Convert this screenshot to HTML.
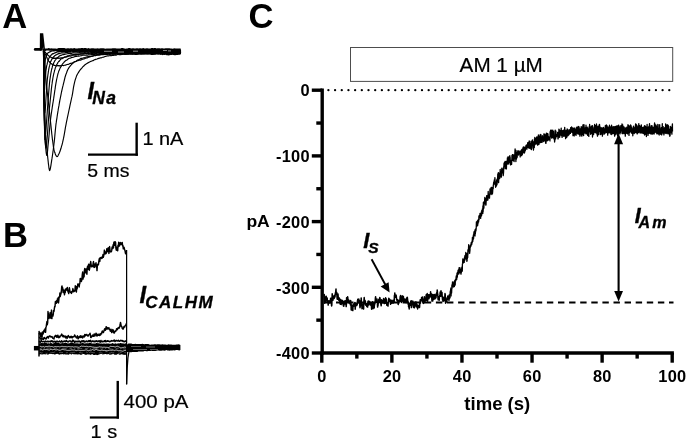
<!DOCTYPE html>
<html lang="en">
<head>
<meta charset="utf-8">
<title>Figure</title>
<style>
html,body{margin:0;padding:0;background:#fff;}
body{width:688px;height:441px;overflow:hidden;}
svg{display:block;}
text{font-family:"Liberation Sans",Arial,Helvetica,sans-serif;fill:#000;}
.r,.r20{stroke:#000;stroke-width:0.2px;}
.b16{font-weight:bold;font-size:16.4px;letter-spacing:0.3px;}
.b18{font-weight:bold;font-size:18px;}
.b32{font-weight:bold;font-size:34.6px;}
.r20{font-size:21px;}
.bi{font-weight:bold;font-style:italic;stroke:#000;stroke-width:0.35px;}
</style>
</head>
<body>
<svg width="688" height="441" viewBox="0 0 688 441">
<rect x="0" y="0" width="688" height="441" fill="#fff"/>
<path d="M328.4 90.2H670" stroke="#000" stroke-width="2.3" stroke-dasharray="0 6.684" stroke-linecap="round" fill="none"/>
<path d="M324.9 302.4H673.5" stroke="#000" stroke-width="2" stroke-dasharray="6.4 4.7" fill="none"/>
<path d="M322.2 88.50V354.70" stroke="#000" stroke-width="3.4" fill="none"/>
<path d="M320.50 353.0H673.9" stroke="#000" stroke-width="3.4" fill="none"/>
<path d="M311.8 90.20H322.2" stroke="#000" stroke-width="3.4" fill="none"/>
<path d="M316.3 123.05H322.2" stroke="#000" stroke-width="3.4" fill="none"/>
<path d="M311.8 155.90H322.2" stroke="#000" stroke-width="3.4" fill="none"/>
<path d="M316.3 188.75H322.2" stroke="#000" stroke-width="3.4" fill="none"/>
<path d="M311.8 221.60H322.2" stroke="#000" stroke-width="3.4" fill="none"/>
<path d="M316.3 254.45H322.2" stroke="#000" stroke-width="3.4" fill="none"/>
<path d="M311.8 287.30H322.2" stroke="#000" stroke-width="3.4" fill="none"/>
<path d="M316.3 320.15H322.2" stroke="#000" stroke-width="3.4" fill="none"/>
<path d="M311.8 353.00H322.2" stroke="#000" stroke-width="3.4" fill="none"/>
<path d="M321.80 353.0V362.7" stroke="#000" stroke-width="3.4" fill="none"/>
<path d="M356.84 353.0V358.6" stroke="#000" stroke-width="3.4" fill="none"/>
<path d="M391.88 353.0V362.7" stroke="#000" stroke-width="3.4" fill="none"/>
<path d="M426.92 353.0V358.6" stroke="#000" stroke-width="3.4" fill="none"/>
<path d="M461.96 353.0V362.7" stroke="#000" stroke-width="3.4" fill="none"/>
<path d="M497.00 353.0V358.6" stroke="#000" stroke-width="3.4" fill="none"/>
<path d="M532.04 353.0V362.7" stroke="#000" stroke-width="3.4" fill="none"/>
<path d="M567.08 353.0V358.6" stroke="#000" stroke-width="3.4" fill="none"/>
<path d="M602.12 353.0V362.7" stroke="#000" stroke-width="3.4" fill="none"/>
<path d="M637.16 353.0V358.6" stroke="#000" stroke-width="3.4" fill="none"/>
<path d="M672.20 353.0V362.7" stroke="#000" stroke-width="3.4" fill="none"/>
<text x="309.9" y="96.40" text-anchor="end" class="b16">0</text>
<text x="309.9" y="162.10" text-anchor="end" class="b16">-100</text>
<text x="309.9" y="227.80" text-anchor="end" class="b16">-200</text>
<text x="309.9" y="293.50" text-anchor="end" class="b16">-300</text>
<text x="309.9" y="359.20" text-anchor="end" class="b16">-400</text>
<text x="322.00" y="382.1" text-anchor="middle" class="b16">0</text>
<text x="392.08" y="382.1" text-anchor="middle" class="b16">20</text>
<text x="462.16" y="382.1" text-anchor="middle" class="b16">40</text>
<text x="532.24" y="382.1" text-anchor="middle" class="b16">60</text>
<text x="602.32" y="382.1" text-anchor="middle" class="b16">80</text>
<text x="672.40" y="382.1" text-anchor="middle" class="b16">100</text>
<text x="246.4" y="227.3" class="b16" style="letter-spacing:0" textLength="23.4" lengthAdjust="spacingAndGlyphs">pA</text>
<text x="464.3" y="409.6" class="b18" textLength="66" lengthAdjust="spacingAndGlyphs">time (s)</text>
<rect x="350.5" y="47.5" width="322.2" height="33.9" fill="#fff" stroke="#4d4d4d" stroke-width="1"/>
<text x="459.6" y="71.6" class="r20" textLength="83.2" lengthAdjust="spacingAndGlyphs">AM 1 µM</text>
<path d="M371.6 259.2L386.6 287" stroke="#000" stroke-width="1.9" fill="none"/>
<path d="M389.6 292.6L380.6 286.5L388.6 282.2Z" fill="#000"/>
<text x="363.2" y="247.6" class="bi" font-size="22">I</text>
<text x="368.2" y="252.7" class="bi" font-size="15.5">S</text>
<path d="M618.6 142V293" stroke="#000" stroke-width="2.1" fill="none"/>
<path d="M618.6 133.5L614.1 144.2H623.1Z" fill="#000"/>
<path d="M618.6 301.6L614.2 291H623Z" fill="#000"/>
<text x="634.8" y="223.1" class="bi" font-size="21.4">I</text>
<text x="638.6" y="227.9" class="bi" font-size="16" letter-spacing="2.2">Am</text>
<text x="2.3" y="27.9" class="b32">A</text>
<text x="2.95" y="246.7" class="b32">B</text>
<text x="248.55" y="28.0" class="b32">C</text>
<text x="87.5" y="98.5" class="bi" font-size="23.2">I</text>
<text x="92.3" y="103.7" class="bi" font-size="17.5" letter-spacing="1.3">Na</text>
<path d="M88 154.65H137.9" stroke="#000" stroke-width="2.3" fill="none"/>
<path d="M136.65 122.7V155.8" stroke="#000" stroke-width="2.4" fill="none"/>
<text x="142.4" y="145.2" class="r" font-size="18.6" textLength="41" lengthAdjust="spacingAndGlyphs">1 nA</text>
<text x="87.2" y="176.6" class="r" font-size="18.6" textLength="42.2" lengthAdjust="spacingAndGlyphs">5 ms</text>
<text x="139.4" y="303.3" class="bi" font-size="23.8">I</text>
<text x="145.2" y="308.2" class="bi" font-size="17" textLength="67.4" lengthAdjust="spacing">CALHM</text>
<path d="M89.8 417.5H119" stroke="#000" stroke-width="2.2" fill="none"/>
<path d="M117.75 380.9V418.6" stroke="#000" stroke-width="2.4" fill="none"/>
<text x="123.6" y="408.2" class="r" font-size="18.8" textLength="64.8" lengthAdjust="spacingAndGlyphs">400 pA</text>
<text x="90.6" y="437.9" class="r" font-size="18.6" textLength="26.6" lengthAdjust="spacingAndGlyphs">1 s</text>
<path d="M43.5 49.9L43.6 50.1L43.7 50.3L43.8 50.5L43.9 50.7L44.0 50.9L44.1 51.1L44.2 51.4L44.3 51.7L44.4 52.0L44.5 52.1L44.6 52.3L44.7 52.6L44.8 52.8L44.9 52.9L45.0 53.2L45.1 53.4L45.2 53.8L45.3 53.9L45.4 54.2L45.5 54.5L45.6 54.8L45.7 55.0L45.8 55.3L45.9 55.4L46.0 55.5L46.1 55.6L46.2 56.0L46.3 56.3L46.4 56.6L46.5 56.8L46.6 57.0L46.7 57.3L46.8 57.3L46.9 57.6L47.0 57.7L47.1 58.2L47.2 58.6L47.3 58.8L47.4 59.0L47.5 59.0L47.6 59.3L47.7 59.3L47.8 59.4L47.9 59.4L48.0 59.6L48.1 60.1L48.2 60.4L48.3 60.5L48.4 60.6L48.5 60.7L48.6 60.9L48.7 60.9L48.8 61.1L48.9 61.2L49.0 61.2L49.1 61.4L49.2 61.5L49.3 61.8L49.4 61.9L49.5 61.9L49.6 61.9L49.7 62.2L49.8 62.4L49.9 62.5L50.0 62.4L50.1 62.5L50.2 62.6L50.3 62.7L50.4 63.0L50.5 63.1L50.6 63.3L50.7 63.4L50.8 63.6L50.9 63.6L51.0 63.6L51.1 63.6L51.2 63.7L51.3 63.6L51.4 63.7L51.5 63.8L51.6 64.0L51.7 64.0L51.8 63.9L51.9 63.9L52.0 64.0L52.1 64.2L52.2 64.4L52.3 64.5L52.4 64.5L52.5 64.5L52.6 64.5L52.7 64.5L52.8 64.5L52.9 64.5L53.0 64.7L53.1 64.9L53.2 64.9L53.3 64.8L53.4 64.7L53.5 64.8L53.6 64.9L53.7 64.9L53.8 65.0L53.9 65.0L54.0 65.2L54.1 65.2L54.2 65.4L54.3 65.3L54.4 65.3L54.5 65.3L54.6 65.4L54.7 65.5L54.8 65.4L54.9 65.4L55.0 65.4L55.1 65.5L55.2 65.5L55.3 65.6L55.4 65.6L55.5 65.6L55.6 65.6L55.7 65.7L55.8 65.7L55.9 65.8L56.0 65.8L56.1 65.8L56.2 65.9L56.3 65.9L56.4 65.8L56.5 65.7L56.6 65.7L56.7 65.7L56.8 65.7L56.9 65.6L57.0 65.6L57.1 65.6L57.2 65.6L57.3 65.6L57.4 65.6L57.5 65.8L57.6 65.7L57.7 65.7L57.8 65.6L57.9 65.6L58.0 65.7L58.1 65.7L58.2 65.7L58.3 65.6L58.4 65.7L58.5 65.6L58.6 65.6L58.7 65.7L58.8 65.9L58.9 66.0L59.0 65.9L59.1 65.8L59.2 65.8L59.3 66.0L59.4 65.8L59.5 65.8L59.6 65.8L59.7 65.8L59.8 65.8L59.9 65.7L60.0 65.8L60.5 65.8L61.0 65.6L61.5 65.6L62.0 65.5L62.5 65.5L63.0 65.5L63.5 65.6L64.0 65.4L64.5 65.3L65.0 65.2L65.5 65.1L66.0 64.9L66.5 64.7L67.0 64.5L67.5 64.5L68.0 64.3L68.5 64.3L69.0 64.1L69.5 63.8L70.0 63.5L70.5 63.3L71.0 63.3L71.5 63.3L72.0 63.1L72.5 62.9L73.0 62.7L73.5 62.4L74.0 62.1L74.5 62.0L75.0 61.7L75.5 61.7L76.0 61.4L76.5 61.3L77.0 61.0L77.5 60.8L78.0 60.6L78.5 60.4L79.0 60.2L79.5 60.2L80.0 60.1L80.5 60.1L81.0 59.9L81.5 59.7L82.0 59.4L82.5 59.2L83.0 59.1L83.5 59.0L84.0 58.9L84.5 58.7L85.0 58.5L85.5 58.3L86.0 58.1L86.5 58.0L87.0 57.8L87.5 57.8L88.0 57.5L88.5 57.3L89.0 57.0L89.5 56.9L90.0 56.8L90.5 56.7L91.0 56.5L91.5 56.4L92.0 56.3L92.5 56.1L93.0 56.0L93.5 55.9L94.0 55.8L94.5 55.7L95.0 55.7L95.5 55.5L96.0 55.3L96.5 55.1L97.0 55.0L97.5 54.8L98.0 54.7L98.5 54.7L99.0 54.7L99.5 54.5L100.0 54.5L100.5 54.3L101.0 54.3L101.5 54.0L102.0 54.0L102.5 53.9L103.0 53.9L103.5 53.9L104.0 53.9L104.5 53.9L105.0 53.7L105.5 53.6L106.0 53.5L106.5 53.5L107.0 53.6L107.5 53.6L108.0 53.3L108.5 53.2L109.0 53.2L109.5 53.3L110.0 53.2L110.5 53.1L111.0 53.0L111.5 53.0L112.0 53.0L112.5 53.1L113.0 53.0L113.5 52.9L114.0 52.9L114.5 52.9L115.0 52.9L115.5 52.8L116.0 52.5L116.5 52.6L117.0 52.6L117.5 52.6L118.0 52.4L118.5 52.4L119.0 52.6L119.5 52.7L120.0 52.8L120.5 52.6L121.0 52.5L121.5 52.5L122.0 52.6L122.5 52.7L123.0 52.7L123.5 52.6L124.0 52.6L124.5 52.5L125.0 52.7L125.5 52.7L126.0 52.8L126.5 52.6L127.0 52.6L127.5 52.5L128.0 52.4L128.5 52.4L129.0 52.5L129.5 52.5L130.0 52.5L130.5 52.5L131.0 52.4L131.5 52.3L132.0 52.2L132.5 52.2L133.0 52.4L133.5 52.4L134.0 52.4L134.5 52.3L135.0 52.5L135.5 52.5L136.0 52.5L136.5 52.3L137.0 52.3L137.5 52.4L138.0 52.3L138.5 52.2L139.0 52.2L139.5 52.3L140.0 52.2L140.5 52.2L141.0 52.3L141.5 52.4L142.0 52.3L142.5 52.2L143.0 52.2L143.5 52.1L144.0 52.1L144.5 52.1L145.0 52.2L145.5 52.0L146.0 52.1L146.5 52.1L147.0 52.3L147.5 52.2L148.0 52.1L148.5 52.0L149.0 52.0L149.5 52.0L150.0 52.1L150.5 52.2L151.0 52.3L151.5 52.3L152.0 52.4L152.5 52.4L153.0 52.4L153.5 52.1L154.0 51.9L154.5 52.0L155.0 52.0L155.5 52.0L156.0 51.9L156.5 52.0L157.0 52.1L157.5 52.1L158.0 52.2L158.5 52.1L159.0 52.0L159.5 52.0L160.0 52.0L160.5 52.1L161.0 52.1L161.5 51.9L162.0 51.9L162.5 51.8L163.0 52.0L163.5 52.1L164.0 52.2L164.5 52.1L165.0 51.9L165.5 51.9L166.0 52.0L166.5 52.2L167.0 52.1L167.5 52.1L168.0 52.1L168.5 51.9L169.0 51.7L169.5 51.6L170.0 51.7L170.5 51.9L171.0 52.0L171.5 52.0L172.0 52.0L172.5 52.1L173.0 52.0L173.5 52.0L174.0 51.8L174.5 51.9L175.0 52.0L175.5 52.1L176.0 52.1L176.5 52.2L177.0 52.2L177.5 52.1L178.0 52.0L178.5 52.0L179.0 51.9L179.5 51.9L180.0 52.0L180.5 51.9L181.0 52.1" fill="none" stroke="#000" stroke-width="1.15" stroke-linejoin="round"/>
<path d="M43.5 49.8L43.6 49.9L43.7 49.9L43.8 50.2L43.9 50.4L44.0 50.5L44.1 50.6L44.2 50.6L44.3 50.7L44.4 50.8L44.5 51.1L44.6 51.2L44.7 51.4L44.8 51.5L44.9 51.6L45.0 51.8L45.1 51.9L45.2 52.1L45.3 52.1L45.4 52.4L45.5 52.5L45.6 52.7L45.7 52.8L45.8 52.9L45.9 53.0L46.0 53.1L46.1 53.3L46.2 53.3L46.3 53.4L46.4 53.5L46.5 53.8L46.6 53.9L46.7 54.0L46.8 53.9L46.9 54.2L47.0 54.3L47.1 54.5L47.2 54.3L47.3 54.4L47.4 54.3L47.5 54.6L47.6 54.7L47.7 54.8L47.8 55.0L47.9 55.3L48.0 55.2L48.1 55.2L48.2 55.2L48.3 55.5L48.4 55.6L48.5 55.5L48.6 55.5L48.7 55.7L48.8 55.9L48.9 56.1L49.0 56.0L49.1 56.0L49.2 56.1L49.3 56.2L49.4 56.3L49.5 56.3L49.6 56.4L49.7 56.3L49.8 56.5L49.9 56.6L50.0 56.7L50.1 56.7L50.2 56.7L50.3 56.9L50.4 57.0L50.5 57.1L50.6 57.1L50.7 57.1L50.8 57.1L50.9 57.1L51.0 57.2L51.1 57.3L51.2 57.4L51.3 57.4L51.4 57.5L51.5 57.6L51.6 57.7L51.7 57.6L51.8 57.6L51.9 57.8L52.0 57.9L52.1 57.8L52.2 57.8L52.3 58.0L52.4 58.0L52.5 58.0L52.6 57.9L52.7 58.0L52.8 58.1L52.9 58.0L53.0 58.1L53.1 58.2L53.2 58.3L53.3 58.3L53.4 58.1L53.5 58.0L53.6 57.9L53.7 58.2L53.8 58.3L53.9 58.3L54.0 58.1L54.1 58.1L54.2 58.1L54.3 58.1L54.4 58.3L54.5 58.3L54.6 58.3L54.7 58.2L54.8 58.4L54.9 58.5L55.0 58.4L55.1 58.4L55.2 58.3L55.3 58.3L55.4 58.3L55.5 58.3L55.6 58.1L55.7 58.1L55.8 58.1L55.9 58.3L56.0 58.3L56.1 58.3L56.2 58.2L56.3 58.1L56.4 58.2L56.5 58.3L56.6 58.2L56.7 58.1L56.8 58.0L56.9 58.1L57.0 58.2L57.1 58.2L57.2 58.2L57.3 58.3L57.4 58.2L57.5 58.2L57.6 58.1L57.7 58.0L57.8 58.1L57.9 58.2L58.0 58.1L58.1 58.0L58.2 57.9L58.3 58.1L58.4 58.2L58.5 58.1L58.6 57.9L58.7 58.2L58.8 58.2L58.9 58.4L59.0 58.2L59.1 58.2L59.2 58.2L59.3 58.1L59.4 58.1L59.5 58.1L59.6 58.2L59.7 58.1L59.8 58.0L59.9 58.0L60.0 58.1L60.5 58.1L61.0 57.9L61.5 57.8L62.0 57.7L62.5 57.8L63.0 57.7L63.5 57.7L64.0 57.5L64.5 57.3L65.0 57.2L65.5 57.2L66.0 57.1L66.5 56.9L67.0 56.8L67.5 56.6L68.0 56.5L68.5 56.3L69.0 56.1L69.5 56.0L70.0 56.0L70.5 56.1L71.0 56.0L71.5 55.8L72.0 55.5L72.5 55.3L73.0 55.1L73.5 55.1L74.0 55.1L74.5 55.2L75.0 55.2L75.5 55.1L76.0 55.1L76.5 54.9L77.0 54.9L77.5 54.7L78.0 54.7L78.5 54.4L79.0 54.4L79.5 54.2L80.0 54.2L80.5 54.1L81.0 54.1L81.5 54.0L82.0 54.0L82.5 54.0L83.0 53.8L83.5 53.7L84.0 53.7L84.5 53.7L85.0 53.6L85.5 53.4L86.0 53.5L86.5 53.5L87.0 53.5L87.5 53.5L88.0 53.4L88.5 53.4L89.0 53.2L89.5 53.2L90.0 53.0L90.5 53.0L91.0 53.1L91.5 53.2L92.0 53.2L92.5 53.0L93.0 52.9L93.5 52.8L94.0 52.8L94.5 52.9L95.0 52.9L95.5 52.9L96.0 52.8L96.5 52.8L97.0 52.8L97.5 52.7L98.0 52.7L98.5 52.7L99.0 52.7L99.5 52.7L100.0 52.6L100.5 52.7L101.0 52.4L101.5 52.4L102.0 52.1L102.5 52.4L103.0 52.5L103.5 52.5L104.0 52.3L104.5 52.3L105.0 52.3L105.5 52.3L106.0 52.2L106.5 52.1L107.0 52.1L107.5 52.2L108.0 52.3L108.5 52.2L109.0 52.1L109.5 52.1L110.0 52.0L110.5 52.1L111.0 52.1L111.5 52.2L112.0 52.1L112.5 52.1L113.0 52.2L113.5 52.2L114.0 51.9L114.5 51.9L115.0 52.0L115.5 52.2L116.0 52.2L116.5 52.1L117.0 52.0L117.5 52.1L118.0 52.0L118.5 52.0L119.0 51.9L119.5 52.0L120.0 51.9L120.5 52.0L121.0 51.9L121.5 52.0L122.0 52.0L122.5 52.1L123.0 52.0L123.5 52.0L124.0 52.0L124.5 52.1L125.0 52.1L125.5 52.1L126.0 52.2L126.5 52.0L127.0 51.9L127.5 51.9L128.0 52.1L128.5 52.2L129.0 52.2L129.5 52.0L130.0 51.8L130.5 51.8L131.0 51.9L131.5 51.9L132.0 51.8L132.5 51.6L133.0 51.7L133.5 51.8L134.0 51.8L134.5 51.8L135.0 51.8L135.5 51.9L136.0 51.8L136.5 51.7L137.0 51.5L137.5 51.7L138.0 51.7L138.5 51.9L139.0 51.9L139.5 51.9L140.0 51.8L140.5 51.8L141.0 51.8L141.5 51.9L142.0 51.7L142.5 51.7L143.0 51.7L143.5 51.6L144.0 51.5L144.5 51.6L145.0 51.9L145.5 51.9L146.0 51.8L146.5 51.8L147.0 51.8L147.5 51.9L148.0 51.7L148.5 51.6L149.0 51.7L149.5 51.7L150.0 51.8L150.5 51.6L151.0 51.7L151.5 51.7L152.0 51.8L152.5 51.7L153.0 51.8L153.5 51.7L154.0 51.7L154.5 51.8L155.0 51.8L155.5 51.7L156.0 51.5L156.5 51.5L157.0 51.6L157.5 51.7L158.0 51.6L158.5 51.6L159.0 51.6L159.5 51.6L160.0 51.7L160.5 51.7L161.0 51.7L161.5 51.7L162.0 51.7L162.5 51.7L163.0 51.6L163.5 51.6L164.0 51.4L164.5 51.5L165.0 51.5L165.5 51.5L166.0 51.5L166.5 51.6L167.0 51.7L167.5 51.7L168.0 51.7L168.5 51.6L169.0 51.5L169.5 51.6L170.0 51.6L170.5 51.6L171.0 51.6L171.5 51.6L172.0 51.6L172.5 51.5L173.0 51.5L173.5 51.5L174.0 51.7L174.5 51.6L175.0 51.5L175.5 51.5L176.0 51.5L176.5 51.6L177.0 51.6L177.5 51.6L178.0 51.6L178.5 51.6L179.0 51.6L179.5 51.6L180.0 51.7L180.5 51.8L181.0 51.7" fill="none" stroke="#000" stroke-width="1.15" stroke-linejoin="round"/>
<path d="M43.5 49.7L43.6 50.1L43.7 50.5L43.8 51.3L43.9 52.0L44.0 52.7L44.1 53.3L44.2 54.1L44.3 55.0L44.4 56.0L44.5 57.0L44.6 57.9L44.7 59.0L44.8 60.4L44.9 61.8L45.0 63.4L45.1 65.2L45.2 67.0L45.3 68.8L45.4 70.5L45.5 72.3L45.6 74.0L45.7 75.8L45.8 77.5L45.9 78.8L46.0 80.1L46.1 81.2L46.2 82.4L46.3 83.4L46.4 84.4L46.5 85.4L46.6 86.3L46.7 87.1L46.8 87.9L46.9 88.8L47.0 89.6L47.1 90.7L47.2 91.7L47.3 92.6L47.4 93.4L47.5 94.1L47.6 95.0L47.7 96.0L47.8 96.8L47.9 97.7L48.0 98.4L48.1 99.4L48.2 100.4L48.3 101.5L48.4 102.3L48.5 103.2L48.6 104.1L48.7 105.0L48.8 105.9L48.9 107.0L49.0 108.0L49.1 108.9L49.2 109.7L49.3 110.6L49.4 111.6L49.5 112.6L49.6 113.5L49.7 114.5L49.8 115.3L49.9 116.1L50.0 116.8L50.1 117.8L50.2 118.7L50.3 119.7L50.4 120.6L50.5 121.5L50.6 122.5L50.7 123.4L50.8 124.4L50.9 125.3L51.0 126.2L51.1 127.2L51.2 128.2L51.3 129.2L51.4 130.0L51.5 130.9L51.6 132.0L51.7 133.0L51.8 134.0L51.9 134.8L52.0 135.5L52.1 136.4L52.2 137.4L52.3 138.3L52.4 139.1L52.5 139.8L52.6 140.5L52.7 141.2L52.8 141.8L52.9 142.6L53.0 143.4L53.1 144.2L53.2 145.0L53.3 145.8L53.4 146.6L53.5 147.2L53.6 147.6L53.7 148.1L53.8 148.6L53.9 149.2L54.0 149.7L54.1 150.2L54.2 150.6L54.3 150.9L54.4 151.2L54.5 151.4L54.6 151.9L54.7 152.3L54.8 152.5L54.9 152.7L55.0 152.9L55.1 153.2L55.2 153.6L55.3 154.0L55.4 154.3L55.5 154.6L55.6 154.8L55.7 155.0L55.8 155.2L55.9 155.3L56.0 155.3L56.1 155.5L56.2 155.8L56.3 156.0L56.4 156.1L56.5 156.1L56.6 156.3L56.7 156.3L56.8 156.4L56.9 156.5L57.0 156.6L57.1 156.4L57.2 156.4L57.3 156.3L57.4 156.4L57.5 156.3L57.6 156.3L57.7 156.2L57.8 156.0L57.9 155.7L58.0 155.6L58.1 155.4L58.2 155.3L58.3 155.0L58.4 154.8L58.5 154.6L58.6 154.4L58.7 154.2L58.8 154.0L58.9 153.8L59.0 153.6L59.1 153.5L59.2 153.3L59.3 153.0L59.4 152.6L59.5 152.3L59.6 152.1L59.7 152.0L59.8 151.9L59.9 151.7L60.0 151.3L60.5 149.8L61.0 148.3L61.5 146.4L62.0 144.8L62.5 142.9L63.0 140.7L63.5 138.4L64.0 135.8L64.5 133.1L65.0 130.2L65.5 127.2L66.0 124.6L66.5 121.9L67.0 119.6L67.5 117.1L68.0 114.9L68.5 112.5L69.0 110.2L69.5 107.8L70.0 105.4L70.5 103.1L71.0 100.8L71.5 98.5L72.0 96.4L72.5 93.8L73.0 90.6L73.5 87.4L74.0 84.8L74.5 82.6L75.0 80.7L75.5 79.0L76.0 77.6L76.5 76.1L77.0 75.0L77.5 74.0L78.0 73.2L78.5 72.4L79.0 71.6L79.5 70.8L80.0 70.1L80.5 69.5L81.0 69.0L81.5 68.4L82.0 67.8L82.5 67.1L83.0 66.6L83.5 66.2L84.0 65.8L84.5 65.2L85.0 64.8L85.5 64.4L86.0 64.1L86.5 63.7L87.0 63.4L87.5 63.1L88.0 62.9L88.5 62.6L89.0 62.3L89.5 62.1L90.0 61.8L90.5 61.5L91.0 61.3L91.5 61.2L92.0 60.9L92.5 60.8L93.0 60.6L93.5 60.4L94.0 60.1L94.5 59.8L95.0 59.6L95.5 59.4L96.0 59.2L96.5 59.2L97.0 59.1L97.5 58.8L98.0 58.6L98.5 58.4L99.0 58.4L99.5 58.1L100.0 58.0L100.5 57.8L101.0 57.9L101.5 57.7L102.0 57.5L102.5 57.3L103.0 57.2L103.5 57.2L104.0 56.9L104.5 56.7L105.0 56.5L105.5 56.5L106.0 56.2L106.5 56.1L107.0 56.0L107.5 55.9L108.0 55.9L108.5 55.9L109.0 55.8L109.5 55.7L110.0 55.6L110.5 55.6L111.0 55.7L111.5 55.6L112.0 55.5L112.5 55.4L113.0 55.4L113.5 55.4L114.0 55.3L114.5 55.1L115.0 55.1L115.5 55.1L116.0 55.2L116.5 54.9L117.0 54.7L117.5 54.3L118.0 54.5L118.5 54.5L119.0 54.7L119.5 54.5L120.0 54.6L120.5 54.5L121.0 54.6L121.5 54.5L122.0 54.5L122.5 54.4L123.0 54.3L123.5 54.2L124.0 54.2L124.5 54.2L125.0 54.2L125.5 54.1L126.0 54.1L126.5 54.0L127.0 53.9L127.5 53.8L128.0 53.8L128.5 53.8L129.0 53.7L129.5 53.7L130.0 53.7L130.5 53.8L131.0 53.8L131.5 53.9L132.0 53.8L132.5 53.8L133.0 53.6L133.5 53.6L134.0 53.7L134.5 53.8L135.0 53.7L135.5 53.6L136.0 53.6L136.5 53.6L137.0 53.7L137.5 53.5L138.0 53.6L138.5 53.6L139.0 53.7L139.5 53.5L140.0 53.5L140.5 53.4L141.0 53.5L141.5 53.5L142.0 53.4L142.5 53.4L143.0 53.5L143.5 53.4L144.0 53.3L144.5 53.0L145.0 53.1L145.5 53.1L146.0 53.2L146.5 53.3L147.0 53.4L147.5 53.3L148.0 53.3L148.5 53.3L149.0 53.3L149.5 53.3L150.0 53.3L150.5 53.2L151.0 53.3L151.5 53.0L152.0 53.1L152.5 52.9L153.0 53.2L153.5 53.1L154.0 53.3L154.5 53.1L155.0 53.4L155.5 53.3L156.0 53.4L156.5 53.2L157.0 53.4L157.5 53.4L158.0 53.2L158.5 53.1L159.0 53.1L159.5 53.1L160.0 53.1L160.5 53.0L161.0 53.1L161.5 53.1L162.0 53.1L162.5 53.1L163.0 53.0L163.5 53.1L164.0 53.0L164.5 53.0L165.0 53.2L165.5 53.2L166.0 53.1L166.5 53.0L167.0 52.9L167.5 53.0L168.0 53.0L168.5 53.1L169.0 53.1L169.5 53.0L170.0 53.0L170.5 53.1L171.0 53.1L171.5 53.1L172.0 53.0L172.5 53.1L173.0 53.2L173.5 53.1L174.0 53.0L174.5 52.9L175.0 52.8L175.5 52.8L176.0 53.0L176.5 53.1L177.0 53.1L177.5 53.0L178.0 52.9L178.5 52.9L179.0 53.0L179.5 53.0L180.0 53.1L180.5 53.1L181.0 53.2" fill="none" stroke="#000" stroke-width="1.15" stroke-linejoin="round"/>
<path d="M43.5 49.8L43.6 53.0L43.7 56.7L43.8 60.7L43.9 65.2L44.0 70.1L44.1 76.1L44.2 83.2L44.3 90.8L44.4 98.3L44.5 104.9L44.6 110.0L44.7 113.9L44.8 117.4L44.9 120.4L45.0 123.4L45.1 126.0L45.2 128.3L45.3 130.0L45.4 131.7L45.5 133.3L45.6 134.7L45.7 136.0L45.8 137.2L45.9 138.5L46.0 139.5L46.1 140.6L46.2 141.8L46.3 142.8L46.4 143.8L46.5 144.6L46.6 145.6L46.7 146.7L46.8 147.7L46.9 148.7L47.0 149.8L47.1 150.9L47.2 152.0L47.3 153.1L47.4 154.1L47.5 155.2L47.6 156.1L47.7 157.3L47.8 158.1L47.9 159.0L48.0 159.9L48.1 160.9L48.2 161.8L48.3 162.7L48.4 163.6L48.5 164.3L48.6 165.0L48.7 165.8L48.8 166.7L48.9 167.6L49.0 168.2L49.1 168.8L49.2 169.2L49.3 169.6L49.4 170.0L49.5 170.3L49.6 170.6L49.7 170.6L49.8 170.4L49.9 170.0L50.0 169.8L50.1 169.5L50.2 169.2L50.3 168.7L50.4 168.3L50.5 167.8L50.6 167.2L50.7 166.6L50.8 166.1L50.9 165.6L51.0 164.9L51.1 164.2L51.2 163.5L51.3 162.9L51.4 162.3L51.5 161.6L51.6 160.9L51.7 160.1L51.8 159.6L51.9 158.9L52.0 158.4L52.1 157.6L52.2 157.1L52.3 156.5L52.4 155.8L52.5 155.1L52.6 154.2L52.7 153.8L52.8 153.0L52.9 152.3L53.0 151.4L53.1 150.8L53.2 150.3L53.3 149.6L53.4 148.7L53.5 147.8L53.6 147.0L53.7 146.2L53.8 145.4L53.9 144.4L54.0 143.5L54.1 142.8L54.2 142.0L54.3 141.3L54.4 140.3L54.5 139.4L54.6 138.4L54.7 137.3L54.8 136.2L54.9 134.9L55.0 133.9L55.1 132.8L55.2 131.7L55.3 130.6L55.4 129.6L55.5 128.7L55.6 127.8L55.7 126.8L55.8 125.8L55.9 124.9L56.0 124.0L56.1 123.3L56.2 122.7L56.3 122.0L56.4 121.3L56.5 120.5L56.6 119.9L56.7 119.3L56.8 118.8L56.9 118.1L57.0 117.5L57.1 116.7L57.2 116.0L57.3 115.4L57.4 114.8L57.5 114.2L57.6 113.5L57.7 112.9L57.8 112.3L57.9 111.6L58.0 111.0L58.1 110.4L58.2 109.7L58.3 109.1L58.4 108.5L58.5 108.0L58.6 107.3L58.7 106.8L58.8 106.3L58.9 105.9L59.0 105.3L59.1 104.6L59.2 104.0L59.3 103.4L59.4 103.0L59.5 102.4L59.6 102.0L59.7 101.2L59.8 100.6L59.9 100.0L60.0 99.6L60.5 97.1L61.0 94.6L61.5 92.0L62.0 89.8L62.5 87.6L63.0 85.7L63.5 83.6L64.0 81.6L64.5 79.5L65.0 77.3L65.5 75.8L66.0 74.2L66.5 73.0L67.0 71.5L67.5 70.3L68.0 69.2L68.5 68.4L69.0 67.6L69.5 66.9L70.0 66.3L70.5 65.7L71.0 65.1L71.5 64.5L72.0 64.1L72.5 63.5L73.0 63.2L73.5 62.5L74.0 62.1L74.5 61.7L75.0 61.5L75.5 61.5L76.0 61.3L76.5 61.0L77.0 60.4L77.5 60.0L78.0 60.0L78.5 59.9L79.0 59.7L79.5 59.3L80.0 59.0L80.5 58.6L81.0 58.4L81.5 58.3L82.0 58.3L82.5 58.2L83.0 58.0L83.5 57.9L84.0 57.8L84.5 57.7L85.0 57.4L85.5 57.3L86.0 57.2L86.5 57.0L87.0 56.8L87.5 56.7L88.0 56.6L88.5 56.6L89.0 56.6L89.5 56.6L90.0 56.6L90.5 56.5L91.0 56.5L91.5 56.3L92.0 56.1L92.5 56.1L93.0 55.9L93.5 55.8L94.0 55.5L94.5 55.5L95.0 55.5L95.5 55.6L96.0 55.5L96.5 55.3L97.0 55.2L97.5 55.2L98.0 55.2L98.5 55.1L99.0 55.1L99.5 55.1L100.0 55.0L100.5 54.9L101.0 54.7L101.5 54.6L102.0 54.5L102.5 54.6L103.0 54.5L103.5 54.6L104.0 54.5L104.5 54.5L105.0 54.6L105.5 54.5L106.0 54.4L106.5 54.3L107.0 54.4L107.5 54.4L108.0 54.3L108.5 54.2L109.0 54.3L109.5 54.4L110.0 54.4L110.5 54.3L111.0 54.1L111.5 54.0L112.0 54.0L112.5 54.1L113.0 54.1L113.5 54.1L114.0 53.9L114.5 54.1L115.0 54.1L115.5 54.2L116.0 54.0L116.5 54.0L117.0 53.9L117.5 53.8L118.0 53.8L118.5 53.9L119.0 53.9L119.5 53.9L120.0 53.8L120.5 53.9L121.0 53.8L121.5 53.7L122.0 53.8L122.5 53.9L123.0 53.9L123.5 53.9L124.0 53.9L124.5 54.0L125.0 54.0L125.5 53.8L126.0 53.8L126.5 53.8L127.0 53.9L127.5 53.8L128.0 53.8L128.5 53.8L129.0 53.9L129.5 53.8L130.0 53.7L130.5 53.6L131.0 53.6L131.5 53.6L132.0 53.7L132.5 53.9L133.0 53.9L133.5 53.8L134.0 53.7L134.5 53.7L135.0 53.8L135.5 53.8L136.0 53.8L136.5 53.6L137.0 53.6L137.5 53.7L138.0 53.6L138.5 53.6L139.0 53.4L139.5 53.5L140.0 53.5L140.5 53.5L141.0 53.7L141.5 53.6L142.0 53.7L142.5 53.7L143.0 53.7L143.5 53.7L144.0 53.7L144.5 53.8L145.0 53.8L145.5 53.6L146.0 53.6L146.5 53.5L147.0 53.7L147.5 53.6L148.0 53.6L148.5 53.6L149.0 53.6L149.5 53.6L150.0 53.6L150.5 53.5L151.0 53.4L151.5 53.3L152.0 53.4L152.5 53.7L153.0 53.8L153.5 53.8L154.0 53.5L154.5 53.6L155.0 53.6L155.5 53.5L156.0 53.5L156.5 53.5L157.0 53.6L157.5 53.4L158.0 53.3L158.5 53.3L159.0 53.3L159.5 53.4L160.0 53.4L160.5 53.5L161.0 53.5L161.5 53.5L162.0 53.5L162.5 53.5L163.0 53.4L163.5 53.6L164.0 53.7L164.5 53.8L165.0 53.6L165.5 53.5L166.0 53.4L166.5 53.4L167.0 53.5L167.5 53.4L168.0 53.3L168.5 53.2L169.0 53.3L169.5 53.6L170.0 53.7L170.5 53.6L171.0 53.4L171.5 53.3L172.0 53.3L172.5 53.3L173.0 53.2L173.5 53.3L174.0 53.3L174.5 53.4L175.0 53.4L175.5 53.6L176.0 53.6L176.5 53.5L177.0 53.4L177.5 53.3L178.0 53.4L178.5 53.3L179.0 53.3L179.5 53.3L180.0 53.5L180.5 53.5L181.0 53.5" fill="none" stroke="#000" stroke-width="1.15" stroke-linejoin="round"/>
<path d="M43.5 49.8L43.6 55.4L43.7 61.4L43.8 67.9L43.9 74.9L44.0 82.8L44.1 92.0L44.2 101.0L44.3 109.1L44.4 114.9L44.5 119.4L44.6 123.4L44.7 127.0L44.8 130.2L44.9 133.4L45.0 136.1L45.1 138.3L45.2 140.0L45.3 141.4L45.4 142.8L45.5 144.2L45.6 145.8L45.7 147.1L45.8 148.5L45.9 149.6L46.0 150.7L46.1 151.8L46.2 152.6L46.3 153.3L46.4 153.9L46.5 154.4L46.6 154.9L46.7 155.3L46.8 155.4L46.9 155.2L47.0 154.8L47.1 154.4L47.2 153.7L47.3 153.0L47.4 152.3L47.5 151.5L47.6 150.6L47.7 149.4L47.8 148.2L47.9 147.0L48.0 146.0L48.1 145.0L48.2 144.0L48.3 143.0L48.4 142.2L48.5 141.2L48.6 140.2L48.7 139.1L48.8 137.9L48.9 137.0L49.0 135.8L49.1 134.7L49.2 133.6L49.3 132.3L49.4 131.0L49.5 129.9L49.6 128.9L49.7 128.0L49.8 126.9L49.9 125.8L50.0 124.7L50.1 123.6L50.2 122.7L50.3 121.7L50.4 120.8L50.5 119.9L50.6 119.0L50.7 118.0L50.8 117.5L50.9 116.7L51.0 116.0L51.1 115.1L51.2 114.3L51.3 113.7L51.4 113.1L51.5 112.4L51.6 111.8L51.7 111.0L51.8 110.3L51.9 109.7L52.0 109.1L52.1 108.5L52.2 107.6L52.3 107.0L52.4 106.4L52.5 106.0L52.6 105.1L52.7 104.5L52.8 103.7L52.9 103.3L53.0 102.6L53.1 102.0L53.2 101.5L53.3 100.9L53.4 100.2L53.5 99.5L53.6 98.9L53.7 98.2L53.8 97.6L53.9 96.8L54.0 96.2L54.1 95.5L54.2 95.0L54.3 94.1L54.4 93.5L54.5 92.7L54.6 92.1L54.7 91.4L54.8 90.6L54.9 89.9L55.0 89.4L55.1 88.8L55.2 88.1L55.3 87.2L55.4 86.5L55.5 85.9L55.6 85.3L55.7 84.7L55.8 84.1L55.9 83.6L56.0 82.9L56.1 82.3L56.2 81.8L56.3 81.3L56.4 80.8L56.5 80.2L56.6 79.6L56.7 79.1L56.8 78.5L56.9 78.2L57.0 77.7L57.1 77.4L57.2 76.8L57.3 76.4L57.4 75.9L57.5 75.7L57.6 75.2L57.7 74.8L57.8 74.3L57.9 73.9L58.0 73.6L58.1 73.2L58.2 72.9L58.3 72.7L58.4 72.4L58.5 72.2L58.6 71.8L58.7 71.4L58.8 71.0L58.9 70.8L59.0 70.7L59.1 70.7L59.2 70.3L59.3 70.0L59.4 69.6L59.5 69.4L59.6 69.2L59.7 69.0L59.8 68.8L59.9 68.5L60.0 68.3L60.5 67.4L61.0 66.7L61.5 65.8L62.0 64.9L62.5 64.0L63.0 63.3L63.5 62.8L64.0 62.2L64.5 61.8L65.0 61.2L65.5 60.8L66.0 60.4L66.5 60.2L67.0 59.9L67.5 59.6L68.0 59.0L68.5 58.7L69.0 58.4L69.5 58.3L70.0 58.2L70.5 58.1L71.0 57.8L71.5 57.6L72.0 57.4L72.5 57.4L73.0 57.3L73.5 57.2L74.0 56.9L74.5 56.8L75.0 56.6L75.5 56.5L76.0 56.4L76.5 56.3L77.0 56.3L77.5 56.2L78.0 56.1L78.5 55.9L79.0 56.1L79.5 56.0L80.0 55.9L80.5 55.7L81.0 55.7L81.5 55.7L82.0 55.4L82.5 55.2L83.0 55.1L83.5 55.1L84.0 55.1L84.5 55.2L85.0 55.3L85.5 55.2L86.0 55.1L86.5 55.1L87.0 55.2L87.5 55.1L88.0 54.9L88.5 54.8L89.0 54.9L89.5 54.9L90.0 54.9L90.5 54.9L91.0 54.8L91.5 54.6L92.0 54.4L92.5 54.3L93.0 54.4L93.5 54.3L94.0 54.5L94.5 54.6L95.0 54.6L95.5 54.3L96.0 54.1L96.5 54.2L97.0 54.4L97.5 54.4L98.0 54.4L98.5 54.1L99.0 54.1L99.5 54.2L100.0 54.3L100.5 54.2L101.0 54.2L101.5 54.2L102.0 54.1L102.5 54.1L103.0 54.0L103.5 54.2L104.0 54.1L104.5 54.2L105.0 54.0L105.5 54.1L106.0 54.1L106.5 54.1L107.0 54.0L107.5 53.9L108.0 53.9L108.5 53.9L109.0 53.9L109.5 53.9L110.0 53.8L110.5 53.9L111.0 53.9L111.5 54.0L112.0 54.2L112.5 54.2L113.0 54.2L113.5 54.1L114.0 54.0L114.5 54.0L115.0 54.0L115.5 54.1L116.0 53.9L116.5 53.8L117.0 53.7L117.5 53.9L118.0 54.0L118.5 53.9L119.0 54.0L119.5 53.9L120.0 53.9L120.5 53.9L121.0 53.9L121.5 53.9L122.0 53.7L122.5 53.7L123.0 53.8L123.5 53.9L124.0 53.9L124.5 53.7L125.0 53.9L125.5 53.9L126.0 53.9L126.5 53.8L127.0 53.8L127.5 53.8L128.0 53.8L128.5 53.9L129.0 53.9L129.5 54.0L130.0 53.9L130.5 53.9L131.0 53.8L131.5 53.8L132.0 53.8L132.5 53.8L133.0 53.8L133.5 53.8L134.0 53.7L134.5 53.7L135.0 53.7L135.5 53.8L136.0 53.8L136.5 53.9L137.0 54.0L137.5 53.9L138.0 53.8L138.5 53.6L139.0 53.7L139.5 53.8L140.0 53.9L140.5 53.8L141.0 53.8L141.5 53.8L142.0 54.0L142.5 54.0L143.0 53.9L143.5 53.6L144.0 53.5L144.5 53.5L145.0 53.5L145.5 53.5L146.0 53.4L146.5 53.5L147.0 53.6L147.5 53.7L148.0 53.7L148.5 53.8L149.0 53.8L149.5 53.7L150.0 53.6L150.5 53.5L151.0 53.5L151.5 53.5L152.0 53.6L152.5 53.8L153.0 53.9L153.5 53.9L154.0 53.8L154.5 53.6L155.0 53.6L155.5 53.7L156.0 53.6L156.5 53.7L157.0 53.6L157.5 53.7L158.0 53.8L158.5 53.9L159.0 53.8L159.5 53.6L160.0 53.4L160.5 53.4L161.0 53.4L161.5 53.4L162.0 53.4L162.5 53.4L163.0 53.6L163.5 53.7L164.0 53.8L164.5 53.8L165.0 53.5L165.5 53.5L166.0 53.5L166.5 53.5L167.0 53.4L167.5 53.5L168.0 53.5L168.5 53.5L169.0 53.4L169.5 53.5L170.0 53.6L170.5 53.6L171.0 53.6L171.5 53.6L172.0 53.6L172.5 53.6L173.0 53.6L173.5 53.6L174.0 53.7L174.5 53.5L175.0 53.5L175.5 53.4L176.0 53.4L176.5 53.6L177.0 53.5L177.5 53.6L178.0 53.4L178.5 53.6L179.0 53.6L179.5 53.6L180.0 53.7L180.5 53.7L181.0 53.8" fill="none" stroke="#000" stroke-width="1.15" stroke-linejoin="round"/>
<path d="M43.5 49.8L43.6 60.4L43.7 70.5L43.8 79.7L43.9 88.9L44.0 98.2L44.1 107.0L44.2 114.5L44.3 120.2L44.4 124.4L44.5 128.1L44.6 131.3L44.7 134.2L44.8 136.6L44.9 138.5L45.0 140.0L45.1 141.2L45.2 142.6L45.3 143.8L45.4 145.0L45.5 145.7L45.6 146.5L45.7 147.0L45.8 147.7L45.9 147.9L46.0 147.8L46.1 147.5L46.2 147.2L46.3 147.0L46.4 146.4L46.5 145.4L46.6 144.3L46.7 143.2L46.8 142.1L46.9 140.8L47.0 139.5L47.1 138.2L47.2 137.1L47.3 136.0L47.4 135.0L47.5 133.6L47.6 132.3L47.7 130.9L47.8 129.5L47.9 128.0L48.0 126.5L48.1 125.0L48.2 123.4L48.3 121.9L48.4 120.5L48.5 119.1L48.6 117.7L48.7 116.3L48.8 115.2L48.9 114.0L49.0 112.9L49.1 111.6L49.2 110.4L49.3 109.2L49.4 108.2L49.5 107.4L49.6 106.5L49.7 105.5L49.8 104.6L49.9 103.7L50.0 102.7L50.1 101.7L50.2 100.7L50.3 99.7L50.4 98.8L50.5 97.8L50.6 96.9L50.7 95.9L50.8 94.9L50.9 94.0L51.0 92.9L51.1 92.1L51.2 91.0L51.3 89.9L51.4 89.0L51.5 88.0L51.6 87.3L51.7 86.4L51.8 85.5L51.9 84.7L52.0 84.0L52.1 83.4L52.2 82.7L52.3 81.9L52.4 81.2L52.5 80.5L52.6 80.1L52.7 79.4L52.8 78.8L52.9 78.0L53.0 77.5L53.1 77.0L53.2 76.3L53.3 75.8L53.4 75.4L53.5 75.1L53.6 74.5L53.7 74.0L53.8 73.5L53.9 73.1L54.0 72.7L54.1 72.4L54.2 72.0L54.3 71.7L54.4 71.2L54.5 70.7L54.6 70.3L54.7 69.9L54.8 69.8L54.9 69.4L55.0 69.2L55.1 68.8L55.2 68.3L55.3 67.9L55.4 67.7L55.5 67.5L55.6 67.2L55.7 67.0L55.8 66.8L55.9 66.7L56.0 66.4L56.1 66.0L56.2 65.7L56.3 65.4L56.4 65.3L56.5 65.1L56.6 64.9L56.7 64.6L56.8 64.4L56.9 64.2L57.0 64.1L57.1 64.1L57.2 64.0L57.3 63.8L57.4 63.5L57.5 63.4L57.6 63.3L57.7 63.2L57.8 62.8L57.9 62.5L58.0 62.3L58.1 62.2L58.2 62.1L58.3 61.9L58.4 61.8L58.5 61.6L58.6 61.4L58.7 61.3L58.8 61.4L58.9 61.4L59.0 61.4L59.1 61.3L59.2 61.3L59.3 61.1L59.4 61.0L59.5 61.0L59.6 60.9L59.7 60.6L59.8 60.4L59.9 60.1L60.0 60.1L60.5 59.4L61.0 59.1L61.5 58.8L62.0 58.6L62.5 58.4L63.0 58.0L63.5 57.7L64.0 57.3L64.5 57.1L65.0 56.9L65.5 56.8L66.0 56.7L66.5 56.5L67.0 56.1L67.5 55.9L68.0 55.8L68.5 55.7L69.0 55.6L69.5 55.4L70.0 55.3L70.5 55.0L71.0 54.9L71.5 54.8L72.0 54.9L72.5 54.7L73.0 54.6L73.5 54.6L74.0 54.5L74.5 54.5L75.0 54.4L75.5 54.6L76.0 54.5L76.5 54.5L77.0 54.3L77.5 54.3L78.0 54.3L78.5 54.3L79.0 54.2L79.5 54.0L80.0 53.9L80.5 53.9L81.0 53.9L81.5 53.9L82.0 53.9L82.5 53.8L83.0 53.8L83.5 53.9L84.0 53.9L84.5 53.8L85.0 53.7L85.5 53.7L86.0 53.8L86.5 53.9L87.0 53.8L87.5 53.7L88.0 53.7L88.5 53.9L89.0 53.7L89.5 53.7L90.0 53.7L90.5 53.8L91.0 53.8L91.5 53.6L92.0 53.5L92.5 53.5L93.0 53.6L93.5 53.7L94.0 53.7L94.5 53.6L95.0 53.4L95.5 53.3L96.0 53.4L96.5 53.6L97.0 53.8L97.5 53.7L98.0 53.7L98.5 53.7L99.0 53.7L99.5 53.6L100.0 53.5L100.5 53.5L101.0 53.6L101.5 53.6L102.0 53.5L102.5 53.4L103.0 53.5L103.5 53.4L104.0 53.3L104.5 53.2L105.0 53.3L105.5 53.4L106.0 53.5L106.5 53.5L107.0 53.5L107.5 53.4L108.0 53.5L108.5 53.6L109.0 53.6L109.5 53.5L110.0 53.5L110.5 53.6L111.0 53.6L111.5 53.3L112.0 53.2L112.5 53.4L113.0 53.4L113.5 53.4L114.0 53.3L114.5 53.4L115.0 53.5L115.5 53.5L116.0 53.4L116.5 53.3L117.0 53.3L117.5 53.3L118.0 53.3L118.5 53.4L119.0 53.5L119.5 53.6L120.0 53.5L120.5 53.5L121.0 53.4L121.5 53.4L122.0 53.4L122.5 53.4L123.0 53.3L123.5 53.4L124.0 53.4L124.5 53.4L125.0 53.1L125.5 53.1L126.0 53.2L126.5 53.5L127.0 53.5L127.5 53.5L128.0 53.4L128.5 53.3L129.0 53.3L129.5 53.3L130.0 53.4L130.5 53.3L131.0 53.3L131.5 53.3L132.0 53.4L132.5 53.4L133.0 53.4L133.5 53.2L134.0 53.3L134.5 53.1L135.0 53.2L135.5 53.2L136.0 53.3L136.5 53.3L137.0 53.5L137.5 53.5L138.0 53.5L138.5 53.3L139.0 53.3L139.5 53.3L140.0 53.2L140.5 53.1L141.0 53.2L141.5 53.3L142.0 53.4L142.5 53.4L143.0 53.3L143.5 53.3L144.0 53.3L144.5 53.4L145.0 53.5L145.5 53.5L146.0 53.4L146.5 53.4L147.0 53.2L147.5 53.3L148.0 53.2L148.5 53.2L149.0 53.1L149.5 53.2L150.0 53.1L150.5 53.0L151.0 53.1L151.5 53.2L152.0 53.3L152.5 53.1L153.0 53.2L153.5 53.3L154.0 53.5L154.5 53.3L155.0 53.3L155.5 53.3L156.0 53.3L156.5 53.3L157.0 53.2L157.5 53.2L158.0 53.2L158.5 53.2L159.0 53.1L159.5 53.0L160.0 53.1L160.5 53.3L161.0 53.5L161.5 53.5L162.0 53.4L162.5 53.3L163.0 53.2L163.5 53.2L164.0 53.4L164.5 53.2L165.0 53.2L165.5 53.1L166.0 53.1L166.5 53.2L167.0 53.1L167.5 53.2L168.0 53.2L168.5 53.4L169.0 53.4L169.5 53.5L170.0 53.5L170.5 53.4L171.0 53.3L171.5 53.3L172.0 53.2L172.5 53.2L173.0 53.2L173.5 53.2L174.0 53.3L174.5 53.3L175.0 53.3L175.5 53.3L176.0 53.2L176.5 53.2L177.0 53.3L177.5 53.3L178.0 53.3L178.5 53.1L179.0 53.1L179.5 53.0L180.0 53.1L180.5 53.2L181.0 53.4" fill="none" stroke="#000" stroke-width="1.15" stroke-linejoin="round"/>
<path d="M43.5 49.8L43.6 62.9L43.7 74.7L43.8 85.0L43.9 94.3L44.0 102.8L44.1 109.8L44.2 114.8L44.3 118.6L44.4 121.8L44.5 124.7L44.6 126.9L44.7 128.7L44.8 130.0L44.9 130.8L45.0 131.6L45.1 132.2L45.2 133.0L45.3 133.6L45.4 133.9L45.5 134.0L45.6 133.7L45.7 133.1L45.8 132.1L45.9 131.0L46.0 129.8L46.1 128.2L46.2 126.6L46.3 124.8L46.4 123.4L46.5 122.1L46.6 120.9L46.7 119.6L46.8 118.2L46.9 116.7L47.0 115.3L47.1 114.0L47.2 112.6L47.3 111.2L47.4 109.8L47.5 108.4L47.6 107.0L47.7 105.6L47.8 104.4L47.9 102.9L48.0 101.6L48.1 100.1L48.2 98.9L48.3 97.6L48.4 96.5L48.5 95.2L48.6 94.0L48.7 92.6L48.8 91.4L48.9 90.1L49.0 89.0L49.1 87.7L49.2 86.6L49.3 85.4L49.4 84.2L49.5 83.1L49.6 82.3L49.7 81.4L49.8 80.5L49.9 79.6L50.0 78.9L50.1 78.3L50.2 77.6L50.3 76.9L50.4 76.2L50.5 75.7L50.6 75.1L50.7 74.4L50.8 73.7L50.9 73.0L51.0 72.6L51.1 72.0L51.2 71.6L51.3 71.1L51.4 70.6L51.5 70.2L51.6 69.7L51.7 69.3L51.8 68.9L51.9 68.6L52.0 68.3L52.1 67.8L52.2 67.4L52.3 66.9L52.4 66.6L52.5 66.1L52.6 65.7L52.7 65.4L52.8 65.3L52.9 64.8L53.0 64.4L53.1 64.2L53.2 64.0L53.3 63.9L53.4 63.7L53.5 63.6L53.6 63.3L53.7 63.0L53.8 62.8L53.9 62.6L54.0 62.4L54.1 62.1L54.2 61.9L54.3 61.8L54.4 61.5L54.5 61.3L54.6 61.1L54.7 61.0L54.8 60.9L54.9 60.6L55.0 60.5L55.1 60.4L55.2 60.2L55.3 60.0L55.4 59.7L55.5 59.7L55.6 59.6L55.7 59.6L55.8 59.6L55.9 59.4L56.0 59.2L56.1 58.9L56.2 58.6L56.3 58.7L56.4 58.6L56.5 58.7L56.6 58.5L56.7 58.3L56.8 58.2L56.9 58.0L57.0 57.9L57.1 57.9L57.2 57.8L57.3 57.8L57.4 57.6L57.5 57.7L57.6 57.4L57.7 57.3L57.8 57.2L57.9 57.2L58.0 57.2L58.1 57.1L58.2 56.9L58.3 56.9L58.4 56.8L58.5 56.8L58.6 56.7L58.7 56.6L58.8 56.5L58.9 56.3L59.0 56.2L59.1 56.1L59.2 56.1L59.3 56.1L59.4 56.1L59.5 55.9L59.6 55.9L59.7 55.9L59.8 55.9L59.9 55.8L60.0 55.6L60.5 55.4L61.0 55.4L61.5 55.3L62.0 54.9L62.5 54.7L63.0 54.6L63.5 54.7L64.0 54.4L64.5 54.4L65.0 54.1L65.5 54.2L66.0 54.0L66.5 54.0L67.0 53.8L67.5 53.7L68.0 53.6L68.5 53.6L69.0 53.5L69.5 53.4L70.0 53.3L70.5 53.4L71.0 53.5L71.5 53.4L72.0 53.3L72.5 53.0L73.0 52.9L73.5 52.8L74.0 52.9L74.5 53.0L75.0 53.0L75.5 53.0L76.0 53.1L76.5 53.0L77.0 53.0L77.5 52.8L78.0 52.9L78.5 52.8L79.0 52.8L79.5 52.6L80.0 52.5L80.5 52.7L81.0 52.9L81.5 52.9L82.0 52.7L82.5 52.8L83.0 52.9L83.5 52.9L84.0 52.7L84.5 52.6L85.0 52.6L85.5 52.7L86.0 52.8L86.5 52.9L87.0 52.9L87.5 52.7L88.0 52.5L88.5 52.6L89.0 52.7L89.5 52.8L90.0 52.8L90.5 52.7L91.0 52.5L91.5 52.6L92.0 52.6L92.5 52.8L93.0 52.6L93.5 52.6L94.0 52.4L94.5 52.5L95.0 52.7L95.5 52.7L96.0 52.7L96.5 52.6L97.0 52.6L97.5 52.4L98.0 52.5L98.5 52.5L99.0 52.6L99.5 52.8L100.0 52.8L100.5 52.8L101.0 52.6L101.5 52.7L102.0 52.8L102.5 52.6L103.0 52.7L103.5 52.5L104.0 52.7L104.5 52.6L105.0 52.7L105.5 52.6L106.0 52.4L106.5 52.3L107.0 52.4L107.5 52.5L108.0 52.7L108.5 52.5L109.0 52.6L109.5 52.6L110.0 52.5L110.5 52.5L111.0 52.6L111.5 52.7L112.0 52.7L112.5 52.6L113.0 52.7L113.5 52.6L114.0 52.5L114.5 52.4L115.0 52.4L115.5 52.4L116.0 52.4L116.5 52.5L117.0 52.5L117.5 52.5L118.0 52.3L118.5 52.4L119.0 52.3L119.5 52.4L120.0 52.4L120.5 52.7L121.0 52.6L121.5 52.5L122.0 52.4L122.5 52.5L123.0 52.6L123.5 52.6L124.0 52.6L124.5 52.4L125.0 52.4L125.5 52.4L126.0 52.6L126.5 52.6L127.0 52.7L127.5 52.7L128.0 52.6L128.5 52.4L129.0 52.3L129.5 52.3L130.0 52.4L130.5 52.5L131.0 52.5L131.5 52.7L132.0 52.6L132.5 52.5L133.0 52.5L133.5 52.4L134.0 52.4L134.5 52.4L135.0 52.5L135.5 52.3L136.0 52.4L136.5 52.4L137.0 52.6L137.5 52.5L138.0 52.5L138.5 52.6L139.0 52.7L139.5 52.7L140.0 52.7L140.5 52.5L141.0 52.5L141.5 52.5L142.0 52.4L142.5 52.4L143.0 52.3L143.5 52.5L144.0 52.4L144.5 52.3L145.0 52.2L145.5 52.2L146.0 52.4L146.5 52.5L147.0 52.4L147.5 52.5L148.0 52.4L148.5 52.4L149.0 52.4L149.5 52.5L150.0 52.4L150.5 52.3L151.0 52.3L151.5 52.4L152.0 52.5L152.5 52.4L153.0 52.5L153.5 52.4L154.0 52.7L154.5 52.5L155.0 52.5L155.5 52.3L156.0 52.5L156.5 52.5L157.0 52.4L157.5 52.4L158.0 52.4L158.5 52.5L159.0 52.4L159.5 52.5L160.0 52.3L160.5 52.3L161.0 52.3L161.5 52.4L162.0 52.5L162.5 52.5L163.0 52.6L163.5 52.5L164.0 52.5L164.5 52.4L165.0 52.4L165.5 52.3L166.0 52.2L166.5 52.3L167.0 52.4L167.5 52.3L168.0 52.3L168.5 52.3L169.0 52.3L169.5 52.3L170.0 52.3L170.5 52.4L171.0 52.4L171.5 52.4L172.0 52.5L172.5 52.4L173.0 52.4L173.5 52.5L174.0 52.5L174.5 52.5L175.0 52.4L175.5 52.4L176.0 52.3L176.5 52.4L177.0 52.3L177.5 52.4L178.0 52.2L178.5 52.3L179.0 52.3L179.5 52.5L180.0 52.4L180.5 52.5L181.0 52.2" fill="none" stroke="#000" stroke-width="1.15" stroke-linejoin="round"/>
<path d="M43.5 49.8L43.6 63.9L43.7 76.1L43.8 85.2L43.9 91.8L44.0 97.4L44.1 101.6L44.2 104.8L44.3 107.3L44.4 109.6L44.5 111.4L44.6 112.4L44.7 113.0L44.8 112.8L44.9 112.4L45.0 111.7L45.1 111.0L45.2 110.2L45.3 109.1L45.4 107.8L45.5 106.4L45.6 104.9L45.7 103.1L45.8 101.3L45.9 99.6L46.0 98.0L46.1 96.4L46.2 94.9L46.3 93.5L46.4 92.1L46.5 90.6L46.6 89.1L46.7 87.5L46.8 86.1L46.9 84.8L47.0 83.7L47.1 82.3L47.2 81.0L47.3 79.7L47.4 78.9L47.5 78.0L47.6 77.2L47.7 76.4L47.8 75.6L47.9 74.9L48.0 74.2L48.1 73.6L48.2 72.8L48.3 72.1L48.4 71.4L48.5 70.9L48.6 70.2L48.7 69.6L48.8 69.0L48.9 68.6L49.0 68.1L49.1 67.6L49.2 67.1L49.3 66.7L49.4 66.2L49.5 65.9L49.6 65.4L49.7 65.2L49.8 64.8L49.9 64.5L50.0 64.1L50.1 63.7L50.2 63.2L50.3 62.7L50.4 62.4L50.5 62.1L50.6 61.8L50.7 61.5L50.8 61.4L50.9 61.3L51.0 61.2L51.1 60.8L51.2 60.5L51.3 60.2L51.4 60.0L51.5 59.8L51.6 59.7L51.7 59.5L51.8 59.4L51.9 59.2L52.0 59.0L52.1 58.9L52.2 58.8L52.3 58.6L52.4 58.4L52.5 58.2L52.6 58.3L52.7 58.2L52.8 57.9L52.9 57.5L53.0 57.4L53.1 57.3L53.2 57.3L53.3 57.2L53.4 57.0L53.5 56.9L53.6 56.6L53.7 56.7L53.8 56.7L53.9 56.7L54.0 56.5L54.1 56.4L54.2 56.3L54.3 56.3L54.4 56.1L54.5 56.0L54.6 55.9L54.7 55.7L54.8 55.6L54.9 55.5L55.0 55.4L55.1 55.4L55.2 55.4L55.3 55.4L55.4 55.3L55.5 55.1L55.6 55.0L55.7 55.2L55.8 55.2L55.9 55.1L56.0 54.8L56.1 54.8L56.2 54.8L56.3 54.7L56.4 54.7L56.5 54.5L56.6 54.5L56.7 54.6L56.8 54.6L56.9 54.5L57.0 54.4L57.1 54.3L57.2 54.1L57.3 54.0L57.4 54.0L57.5 54.0L57.6 54.1L57.7 54.1L57.8 54.2L57.9 54.1L58.0 54.0L58.1 53.9L58.2 53.7L58.3 53.8L58.4 53.7L58.5 53.7L58.6 53.7L58.7 53.7L58.8 53.6L58.9 53.5L59.0 53.5L59.1 53.5L59.2 53.5L59.3 53.6L59.4 53.5L59.5 53.5L59.6 53.5L59.7 53.5L59.8 53.5L59.9 53.4L60.0 53.3L60.5 53.2L61.0 53.1L61.5 52.8L62.0 52.8L62.5 52.8L63.0 53.0L63.5 52.9L64.0 52.9L64.5 52.7L65.0 52.7L65.5 52.6L66.0 52.5L66.5 52.5L67.0 52.5L67.5 52.5L68.0 52.4L68.5 52.3L69.0 52.2L69.5 52.2L70.0 52.1L70.5 52.2L71.0 52.0L71.5 52.0L72.0 52.0L72.5 52.0L73.0 51.9L73.5 51.8L74.0 51.9L74.5 51.9L75.0 51.8L75.5 51.9L76.0 51.9L76.5 51.9L77.0 51.9L77.5 51.9L78.0 51.8L78.5 51.8L79.0 51.8L79.5 51.9L80.0 51.8L80.5 51.8L81.0 51.8L81.5 51.9L82.0 51.9L82.5 51.9L83.0 51.9L83.5 51.9L84.0 51.9L84.5 51.8L85.0 51.9L85.5 51.8L86.0 51.9L86.5 51.7L87.0 51.8L87.5 51.8L88.0 51.8L88.5 51.9L89.0 51.7L89.5 51.7L90.0 51.6L90.5 51.6L91.0 51.7L91.5 51.7L92.0 51.6L92.5 51.4L93.0 51.4L93.5 51.6L94.0 51.6L94.5 51.6L95.0 51.6L95.5 51.6L96.0 51.7L96.5 51.5L97.0 51.7L97.5 51.7L98.0 51.7L98.5 51.5L99.0 51.3L99.5 51.4L100.0 51.5L100.5 51.7L101.0 51.6L101.5 51.5L102.0 51.5L102.5 51.6L103.0 51.7L103.5 51.6L104.0 51.5L104.5 51.6L105.0 51.7L105.5 51.6L106.0 51.6L106.5 51.5L107.0 51.4L107.5 51.4L108.0 51.5L108.5 51.7L109.0 51.6L109.5 51.4L110.0 51.5L110.5 51.5L111.0 51.6L111.5 51.5L112.0 51.5L112.5 51.5L113.0 51.6L113.5 51.6L114.0 51.7L114.5 51.7L115.0 51.7L115.5 51.7L116.0 51.7L116.5 51.7L117.0 51.7L117.5 51.6L118.0 51.6L118.5 51.6L119.0 51.6L119.5 51.5L120.0 51.6L120.5 51.6L121.0 51.6L121.5 51.6L122.0 51.7L122.5 51.7L123.0 51.5L123.5 51.4L124.0 51.4L124.5 51.5L125.0 51.5L125.5 51.5L126.0 51.5L126.5 51.6L127.0 51.5L127.5 51.4L128.0 51.4L128.5 51.4L129.0 51.3L129.5 51.4L130.0 51.4L130.5 51.5L131.0 51.4L131.5 51.5L132.0 51.4L132.5 51.4L133.0 51.3L133.5 51.5L134.0 51.4L134.5 51.4L135.0 51.4L135.5 51.4L136.0 51.4L136.5 51.2L137.0 51.2L137.5 51.3L138.0 51.4L138.5 51.4L139.0 51.3L139.5 51.3L140.0 51.4L140.5 51.4L141.0 51.4L141.5 51.3L142.0 51.4L142.5 51.3L143.0 51.3L143.5 51.4L144.0 51.3L144.5 51.6L145.0 51.5L145.5 51.6L146.0 51.4L146.5 51.3L147.0 51.3L147.5 51.3L148.0 51.3L148.5 51.3L149.0 51.4L149.5 51.6L150.0 51.7L150.5 51.7L151.0 51.7L151.5 51.6L152.0 51.6L152.5 51.4L153.0 51.3L153.5 51.5L154.0 51.5L154.5 51.5L155.0 51.4L155.5 51.4L156.0 51.4L156.5 51.4L157.0 51.4L157.5 51.3L158.0 51.1L158.5 51.2L159.0 51.2L159.5 51.4L160.0 51.3L160.5 51.5L161.0 51.4L161.5 51.3L162.0 51.2L162.5 51.1L163.0 51.3L163.5 51.4L164.0 51.5L164.5 51.5L165.0 51.2L165.5 51.2L166.0 51.2L166.5 51.3L167.0 51.4L167.5 51.5L168.0 51.5L168.5 51.5L169.0 51.3L169.5 51.3L170.0 51.3L170.5 51.3L171.0 51.3L171.5 51.2L172.0 51.4L172.5 51.4L173.0 51.5L173.5 51.5L174.0 51.5L174.5 51.4L175.0 51.3L175.5 51.3L176.0 51.3L176.5 51.3L177.0 51.4L177.5 51.4L178.0 51.2L178.5 51.3L179.0 51.4L179.5 51.6L180.0 51.6L180.5 51.6L181.0 51.6" fill="none" stroke="#000" stroke-width="1.15" stroke-linejoin="round"/>
<path d="M43.5 49.7L43.6 59.6L43.7 68.2L43.8 75.1L43.9 80.9L44.0 85.7L44.1 88.2L44.2 89.2L44.3 89.7L44.4 89.9L44.5 90.1L44.6 89.4L44.7 87.6L44.8 85.0L44.9 82.7L45.0 80.5L45.1 78.9L45.2 77.7L45.3 76.8L45.4 75.6L45.5 74.6L45.6 73.6L45.7 72.9L45.8 72.0L45.9 71.2L46.0 70.3L46.1 69.6L46.2 68.9L46.3 68.3L46.4 67.6L46.5 66.9L46.6 66.3L46.7 65.7L46.8 65.3L46.9 64.9L47.0 64.7L47.1 64.3L47.2 63.8L47.3 63.2L47.4 62.8L47.5 62.4L47.6 62.2L47.7 61.9L47.8 61.6L47.9 61.1L48.0 60.8L48.1 60.4L48.2 60.0L48.3 59.7L48.4 59.6L48.5 59.6L48.6 59.2L48.7 58.6L48.8 58.3L48.9 58.1L49.0 58.1L49.1 58.1L49.2 57.8L49.3 57.7L49.4 57.5L49.5 57.4L49.6 57.1L49.7 56.9L49.8 56.7L49.9 56.7L50.0 56.4L50.1 56.2L50.2 56.0L50.3 56.0L50.4 56.0L50.5 55.9L50.6 55.8L50.7 55.6L50.8 55.5L50.9 55.2L51.0 55.1L51.1 55.1L51.2 55.0L51.3 55.0L51.4 54.7L51.5 54.7L51.6 54.5L51.7 54.6L51.8 54.5L51.9 54.6L52.0 54.2L52.1 54.1L52.2 53.8L52.3 54.0L52.4 54.0L52.5 53.9L52.6 53.7L52.7 53.6L52.8 53.6L52.9 53.7L53.0 53.7L53.1 53.9L53.2 53.8L53.3 53.8L53.4 53.6L53.5 53.6L53.6 53.5L53.7 53.2L53.8 53.2L53.9 53.2L54.0 53.3L54.1 53.2L54.2 53.1L54.3 53.1L54.4 53.0L54.5 53.2L54.6 53.1L54.7 53.0L54.8 52.9L54.9 52.9L55.0 52.9L55.1 52.9L55.2 53.0L55.3 52.8L55.4 52.8L55.5 52.6L55.6 52.5L55.7 52.5L55.8 52.5L55.9 52.4L56.0 52.4L56.1 52.2L56.2 52.2L56.3 52.2L56.4 52.3L56.5 52.1L56.6 52.2L56.7 52.2L56.8 52.2L56.9 52.0L57.0 51.8L57.1 51.8L57.2 51.6L57.3 51.7L57.4 51.8L57.5 52.0L57.6 52.0L57.7 52.0L57.8 52.0L57.9 51.9L58.0 51.7L58.1 51.7L58.2 51.8L58.3 51.9L58.4 51.8L58.5 51.6L58.6 51.6L58.7 51.7L58.8 51.9L58.9 51.7L59.0 51.6L59.1 51.6L59.2 51.7L59.3 51.9L59.4 51.8L59.5 51.7L59.6 51.6L59.7 51.6L59.8 51.6L59.9 51.6L60.0 51.6L60.5 51.6L61.0 51.5L61.5 51.5L62.0 51.6L62.5 51.6L63.0 51.5L63.5 51.5L64.0 51.5L64.5 51.5L65.0 51.5L65.5 51.5L66.0 51.5L66.5 51.6L67.0 51.5L67.5 51.5L68.0 51.4L68.5 51.4L69.0 51.4L69.5 51.5L70.0 51.5L70.5 51.4L71.0 51.2L71.5 51.2L72.0 51.3L72.5 51.3L73.0 51.2L73.5 51.3L74.0 51.4L74.5 51.4L75.0 51.5L75.5 51.5L76.0 51.5L76.5 51.4L77.0 51.4L77.5 51.3L78.0 51.2L78.5 51.2L79.0 51.2L79.5 51.3L80.0 51.5L80.5 51.5L81.0 51.4L81.5 51.3L82.0 51.1L82.5 51.0L83.0 51.0L83.5 51.3L84.0 51.4L84.5 51.4L85.0 51.4L85.5 51.3L86.0 51.3L86.5 51.3L87.0 51.2L87.5 51.3L88.0 51.2L88.5 51.0L89.0 50.9L89.5 51.0L90.0 51.2L90.5 51.2L91.0 51.1L91.5 51.0L92.0 51.1L92.5 51.0L93.0 51.0L93.5 51.0L94.0 50.9L94.5 50.9L95.0 50.9L95.5 51.0L96.0 50.9L96.5 50.9L97.0 50.8L97.5 51.0L98.0 50.9L98.5 51.1L99.0 51.1L99.5 51.2L100.0 51.0L100.5 51.0L101.0 50.9L101.5 50.9L102.0 50.8L102.5 50.8L103.0 50.8L103.5 50.9L104.0 51.0L104.5 51.0L105.0 51.0L105.5 50.9L106.0 50.9L106.5 50.9L107.0 50.9L107.5 50.9L108.0 50.9L108.5 50.8L109.0 50.8L109.5 50.9L110.0 50.8L110.5 50.9L111.0 50.8L111.5 51.0L112.0 50.8L112.5 50.8L113.0 50.7L113.5 50.8L114.0 50.9L114.5 51.0L115.0 50.9L115.5 50.8L116.0 50.6L116.5 50.6L117.0 50.7L117.5 50.7L118.0 50.7L118.5 50.7L119.0 50.7L119.5 50.7L120.0 50.9L120.5 50.9L121.0 51.1L121.5 50.9L122.0 50.9L122.5 50.8L123.0 50.7L123.5 50.8L124.0 50.6L124.5 50.6L125.0 50.6L125.5 50.8L126.0 50.8L126.5 50.8L127.0 50.6L127.5 50.6L128.0 50.6L128.5 50.6L129.0 50.8L129.5 50.8L130.0 50.9L130.5 50.9L131.0 50.9L131.5 50.9L132.0 50.8L132.5 50.8L133.0 50.8L133.5 50.8L134.0 50.8L134.5 50.7L135.0 50.6L135.5 50.6L136.0 50.6L136.5 50.7L137.0 50.7L137.5 50.7L138.0 50.5L138.5 50.6L139.0 50.7L139.5 50.7L140.0 50.7L140.5 50.5L141.0 50.5L141.5 50.5L142.0 50.6L142.5 50.5L143.0 50.5L143.5 50.6L144.0 50.8L144.5 50.7L145.0 50.7L145.5 50.6L146.0 50.6L146.5 50.5L147.0 50.6L147.5 50.6L148.0 50.8L148.5 50.6L149.0 50.6L149.5 50.7L150.0 50.7L150.5 50.6L151.0 50.6L151.5 50.6L152.0 50.6L152.5 50.5L153.0 50.5L153.5 50.5L154.0 50.4L154.5 50.5L155.0 50.6L155.5 50.7L156.0 50.4L156.5 50.3L157.0 50.3L157.5 50.7L158.0 50.8L158.5 50.8L159.0 50.7L159.5 50.5L160.0 50.7L160.5 50.7L161.0 50.7L161.5 50.6L162.0 50.7L162.5 50.6L163.0 50.5L163.5 50.5L164.0 50.7L164.5 50.7L165.0 50.6L165.5 50.6L166.0 50.7L166.5 50.6L167.0 50.5L167.5 50.6L168.0 50.7L168.5 50.6L169.0 50.7L169.5 50.7L170.0 50.7L170.5 50.5L171.0 50.3L171.5 50.3L172.0 50.4L172.5 50.7L173.0 50.8L173.5 50.8L174.0 50.7L174.5 50.7L175.0 50.6L175.5 50.7L176.0 50.7L176.5 50.8L177.0 50.8L177.5 50.7L178.0 50.6L178.5 50.5L179.0 50.5L179.5 50.6L180.0 50.6L180.5 50.6L181.0 50.6" fill="none" stroke="#000" stroke-width="1.15" stroke-linejoin="round"/>
<path d="M43.5 49.7L43.6 55.7L43.7 60.7L43.8 63.8L43.9 65.9L44.0 67.4L44.1 68.1L44.2 67.7L44.3 66.9L44.4 66.0L44.5 65.0L44.6 64.1L44.7 63.5L44.8 62.9L44.9 62.2L45.0 61.4L45.1 60.7L45.2 60.1L45.3 59.6L45.4 59.0L45.5 58.4L45.6 57.9L45.7 57.5L45.8 57.2L45.9 56.7L46.0 56.5L46.1 56.3L46.2 56.2L46.3 55.8L46.4 55.5L46.5 55.2L46.6 55.0L46.7 54.8L46.8 54.5L46.9 54.2L47.0 54.0L47.1 54.0L47.2 54.0L47.3 53.8L47.4 53.5L47.5 53.3L47.6 53.2L47.7 53.1L47.8 53.1L47.9 52.9L48.0 52.8L48.1 52.7L48.2 52.7L48.3 52.6L48.4 52.5L48.5 52.5L48.6 52.5L48.7 52.6L48.8 52.6L48.9 52.5L49.0 52.3L49.1 52.2L49.2 52.1L49.3 52.2L49.4 52.0L49.5 52.0L49.6 51.9L49.7 52.0L49.8 52.0L49.9 51.9L50.0 51.8L50.1 51.8L50.2 51.6L50.3 51.6L50.4 51.7L50.5 51.7L50.6 51.7L50.7 51.4L50.8 51.5L50.9 51.4L51.0 51.3L51.1 51.2L51.2 51.1L51.3 51.1L51.4 51.1L51.5 51.1L51.6 51.1L51.7 51.0L51.8 51.0L51.9 50.9L52.0 51.0L52.1 50.9L52.2 50.9L52.3 50.9L52.4 51.0L52.5 51.0L52.6 51.0L52.7 51.0L52.8 50.9L52.9 51.0L53.0 50.9L53.1 50.9L53.2 50.8L53.3 50.7L53.4 50.8L53.5 50.8L53.6 50.8L53.7 50.5L53.8 50.5L53.9 50.5L54.0 50.6L54.1 50.7L54.2 50.8L54.3 50.8L54.4 50.7L54.5 50.7L54.6 50.7L54.7 50.6L54.8 50.5L54.9 50.4L55.0 50.5L55.1 50.6L55.2 50.6L55.3 50.7L55.4 50.5L55.5 50.4L55.6 50.3L55.7 50.3L55.8 50.4L55.9 50.3L56.0 50.3L56.1 50.3L56.2 50.5L56.3 50.5L56.4 50.5L56.5 50.5L56.6 50.5L56.7 50.6L56.8 50.6L56.9 50.6L57.0 50.4L57.1 50.6L57.2 50.6L57.3 50.8L57.4 50.7L57.5 50.6L57.6 50.5L57.7 50.5L57.8 50.6L57.9 50.5L58.0 50.6L58.1 50.4L58.2 50.6L58.3 50.5L58.4 50.5L58.5 50.5L58.6 50.6L58.7 50.7L58.8 50.6L58.9 50.7L59.0 50.5L59.1 50.5L59.2 50.4L59.3 50.5L59.4 50.6L59.5 50.7L59.6 50.5L59.7 50.4L59.8 50.3L59.9 50.4L60.0 50.5L60.5 50.5L61.0 50.4L61.5 50.5L62.0 50.6L62.5 50.5L63.0 50.5L63.5 50.5L64.0 50.5L64.5 50.4L65.0 50.5L65.5 50.5L66.0 50.5L66.5 50.4L67.0 50.5L67.5 50.5L68.0 50.5L68.5 50.4L69.0 50.4L69.5 50.4L70.0 50.4L70.5 50.3L71.0 50.3L71.5 50.4L72.0 50.5L72.5 50.5L73.0 50.3L73.5 50.2L74.0 50.3L74.5 50.5L75.0 50.4L75.5 50.3L76.0 50.2L76.5 50.2L77.0 50.1L77.5 50.1L78.0 50.1L78.5 50.2L79.0 50.3L79.5 50.3L80.0 50.3L80.5 50.2L81.0 50.2L81.5 50.3L82.0 50.3L82.5 50.3L83.0 50.1L83.5 50.1L84.0 50.1L84.5 50.2L85.0 50.1L85.5 50.2L86.0 50.1L86.5 50.1L87.0 50.1L87.5 50.0L88.0 50.0L88.5 50.0L89.0 50.0L89.5 49.9L90.0 50.0L90.5 50.1L91.0 50.2L91.5 50.0L92.0 50.2L92.5 50.2L93.0 50.1L93.5 50.0L94.0 49.9L94.5 50.1L95.0 50.0L95.5 50.2L96.0 50.2L96.5 50.2L97.0 50.2L97.5 50.3L98.0 50.3L98.5 50.3L99.0 50.1L99.5 50.2L100.0 50.0L100.5 49.9L101.0 50.0L101.5 50.1L102.0 50.1L102.5 50.1L103.0 50.2L103.5 50.3L104.0 50.1L104.5 50.0L105.0 50.0L105.5 50.0L106.0 49.9L106.5 49.7L107.0 49.9L107.5 50.0L108.0 50.1L108.5 50.0L109.0 50.0L109.5 50.1L110.0 50.3L110.5 50.3L111.0 50.3L111.5 50.1L112.0 50.1L112.5 50.0L113.0 50.1L113.5 49.9L114.0 49.9L114.5 49.8L115.0 49.8L115.5 49.7L116.0 49.9L116.5 50.0L117.0 50.2L117.5 50.1L118.0 49.9L118.5 49.9L119.0 49.8L119.5 49.8L120.0 49.8L120.5 49.9L121.0 49.9L121.5 49.9L122.0 49.9L122.5 49.9L123.0 50.0L123.5 50.1L124.0 50.2L124.5 50.1L125.0 50.0L125.5 50.0L126.0 50.1L126.5 50.1L127.0 50.1L127.5 50.1L128.0 50.0L128.5 49.8L129.0 49.8L129.5 49.9L130.0 49.9L130.5 49.9L131.0 49.8L131.5 49.8L132.0 49.9L132.5 49.9L133.0 50.1L133.5 50.0L134.0 50.0L134.5 49.8L135.0 50.0L135.5 50.0L136.0 50.0L136.5 49.7L137.0 49.8L137.5 49.6L138.0 49.8L138.5 49.8L139.0 49.9L139.5 50.0L140.0 49.9L140.5 49.9L141.0 49.8L141.5 49.9L142.0 49.9L142.5 49.9L143.0 49.8L143.5 49.6L144.0 49.7L144.5 49.7L145.0 49.8L145.5 49.9L146.0 50.0L146.5 49.9L147.0 49.8L147.5 49.8L148.0 49.8L148.5 49.7L149.0 49.6L149.5 49.6L150.0 49.8L150.5 49.8L151.0 49.8L151.5 49.8L152.0 49.8L152.5 49.9L153.0 49.8L153.5 49.9L154.0 49.9L154.5 49.8L155.0 49.7L155.5 49.8L156.0 49.8L156.5 49.9L157.0 49.7L157.5 49.7L158.0 49.6L158.5 49.7L159.0 49.6L159.5 49.6L160.0 49.7L160.5 49.9L161.0 49.9L161.5 49.7L162.0 49.6L162.5 49.7L163.0 49.7L163.5 49.7L164.0 49.8L164.5 49.9L165.0 50.0L165.5 49.8L166.0 49.7L166.5 49.7L167.0 49.8L167.5 49.9L168.0 49.8L168.5 49.9L169.0 49.8L169.5 49.8L170.0 49.6L170.5 49.7L171.0 49.8L171.5 49.8L172.0 49.7L172.5 49.7L173.0 49.7L173.5 49.7L174.0 49.8L174.5 49.9L175.0 49.8L175.5 49.6L176.0 49.6L176.5 49.6L177.0 49.8L177.5 49.8L178.0 49.9L178.5 49.9L179.0 50.0L179.5 50.1L180.0 50.1L180.5 49.9L181.0 49.7" fill="none" stroke="#000" stroke-width="1.15" stroke-linejoin="round"/>
<path d="M35.2 49.4H41" stroke="#000" stroke-width="2.7" stroke-linecap="round" fill="none"/>
<path d="M40.6 50.5L40.7 34L42.5 34L44.2 49.5L44.4 62" stroke="#000" stroke-width="1.6" fill="none" stroke-linejoin="miter"/>
<path d="M40.7 34H42.5L43.6 44L42.6 50H40.7Z" fill="#000" stroke="none"/>
<path d="M43.7 49L44.2 100L45.2 140" stroke="#000" stroke-width="1.6" fill="none"/>
<path d="M43.5 48.6L44.5 48.7L45.5 48.4L46.5 48.4L47.5 48.4L48.5 48.1L49.5 48.3L50.5 48.4L51.5 48.3L52.5 48.4L53.5 48.6L54.5 48.6L55.5 48.6L56.5 48.7L57.5 48.4L58.5 48.1L59.5 48.0L60.5 48.1L61.5 48.0L62.5 47.9L63.5 48.0L64.5 48.0L65.5 48.4L66.5 48.4L67.5 48.2L68.5 48.3L69.5 48.4L70.5 48.2L71.5 48.2L72.5 48.4L73.5 48.2L74.5 48.1L75.5 48.4L76.5 48.6L77.5 48.5L78.5 48.3L79.5 48.2L80.5 48.2L81.5 48.0L82.5 48.1L83.5 48.2L84.5 48.1L85.5 48.1L86.5 48.3L87.5 48.4L88.5 48.1L89.5 48.4L90.5 48.4L91.5 48.2L92.5 48.3L93.5 48.3L94.5 48.5L95.5 48.5L96.5 48.5L97.5 48.3L98.5 48.5L99.5 48.6L100.5 48.3L101.5 48.3L102.5 48.3L103.5 48.3L104.5 48.6L105.5 48.8L106.5 48.6L107.5 48.5L108.5 48.6L109.5 48.4L110.5 48.5L111.5 48.6L112.5 48.2L113.5 48.2L114.5 48.3L115.5 48.3L116.5 48.5L117.5 48.4L118.5 48.4L119.5 48.6L120.5 48.4L121.5 48.0L122.5 48.1L123.5 48.3L124.5 48.6L125.5 48.8L126.5 48.6L127.5 48.4L128.5 48.1L129.5 48.0L130.5 48.2L131.5 48.4L132.5 48.3L133.5 48.3L134.5 48.5L135.5 48.4L136.5 48.2L137.5 48.2L138.5 48.4L139.5 48.3L140.5 48.2L141.5 48.6L142.5 48.2L143.5 48.1L144.5 48.5L145.5 48.4L146.5 48.2L147.5 48.3L148.5 48.5L149.5 48.6L150.5 48.4L151.5 48.1L152.5 48.0L153.5 48.2L154.5 48.1L155.5 48.0L156.5 48.4L157.5 48.3L158.5 48.2L159.5 48.3L160.5 48.5L161.5 48.3L162.5 48.2L163.5 48.4L164.5 48.4L165.5 48.2L166.5 48.2L167.5 48.3L168.5 48.2L169.5 48.2L170.5 48.5L171.5 48.6L172.5 48.7L173.5 48.6L174.5 48.3L175.5 48.5L176.5 48.5L177.5 48.4L178.5 48.6L179.5 48.5L180.5 48.2L180.5 54.2L179.5 54.7L178.5 54.7L177.5 55.0L176.5 55.0L175.5 55.3L174.5 55.2L173.5 55.0L172.5 54.8L171.5 54.9L170.5 55.1L169.5 55.2L168.5 55.5L167.5 55.3L166.5 55.3L165.5 54.8L164.5 55.1L163.5 54.8L162.5 55.2L161.5 54.7L160.5 54.9L159.5 54.6L158.5 54.4L157.5 54.5L156.5 54.3L155.5 54.7L154.5 54.7L153.5 54.8L152.5 54.9L151.5 54.9L150.5 54.7L149.5 54.3L148.5 54.2L147.5 54.4L146.5 54.6L145.5 54.5L144.5 54.6L143.5 54.4L142.5 54.3L141.5 54.4L140.5 54.4L139.5 54.4L138.5 54.4L137.5 54.7L136.5 55.0L135.5 54.9L134.5 54.7L133.5 54.4L132.5 54.6L131.5 54.2L130.5 54.4L129.5 54.3L128.5 54.5L127.5 54.6L126.5 54.8L125.5 54.7L124.5 54.5L123.5 53.9L122.5 53.9L121.5 53.8L120.5 53.8L119.5 54.3L118.5 54.1L117.5 53.6L116.5 52.7L115.5 53.2L114.5 53.5L113.5 53.9L112.5 53.6L111.5 53.7L110.5 53.4L109.5 53.4L108.5 53.2L107.5 52.7L106.5 52.7L105.5 52.8L104.5 53.2L103.5 53.1L102.5 52.7L101.5 52.4L100.5 52.4L99.5 52.4L98.5 52.3L97.5 51.8L96.5 51.6L95.5 51.7L94.5 51.8L93.5 51.9L92.5 51.6L91.5 51.9L90.5 51.8L89.5 51.9L88.5 51.4L87.5 52.0L86.5 51.8L85.5 52.0L84.5 51.7L83.5 51.8L82.5 52.0L81.5 51.9L80.5 52.1L79.5 51.8L78.5 51.2L77.5 51.0L76.5 51.1L75.5 51.9L74.5 52.1L73.5 52.0L72.5 51.4L71.5 51.0L70.5 50.7L69.5 51.1L68.5 51.0L67.5 51.4L66.5 51.7L65.5 52.0L64.5 51.8L63.5 51.1L62.5 50.5L61.5 50.4L60.5 50.7L59.5 51.3L58.5 51.5L57.5 51.5L56.5 51.1L55.5 51.1L54.5 51.1L53.5 51.0L52.5 50.6L51.5 50.7L50.5 50.7L49.5 50.8L48.5 50.6L47.5 50.6L46.5 50.6L45.5 51.1L44.5 51.2L43.5 51.3Z" fill="#000" stroke="none"/>
<path d="M104 51.3h8" stroke="#fff" stroke-width="0.7" opacity="0.8"/>
<path d="M118 52.0h6" stroke="#fff" stroke-width="0.7" opacity="0.8"/>
<path d="M133 51.2h5" stroke="#fff" stroke-width="0.7" opacity="0.8"/>
<path d="M163 50.6h4" stroke="#fff" stroke-width="0.7" opacity="0.8"/>
<path d="M168 50.9h3" stroke="#fff" stroke-width="0.7" opacity="0.8"/>
<path d="M38.9 330.9L39.2 331.9L39.6 334.1L40.0 332.9L40.3 333.0L40.7 336.4L41.0 336.5L41.4 333.7L41.7 333.1L42.1 337.1L42.4 332.0L42.8 334.2L43.1 334.0L43.5 332.4L43.8 330.9L44.2 330.0L44.5 331.7L44.9 329.6L45.2 328.6L45.6 332.3L45.9 327.4L46.3 326.2L46.6 323.7L47.0 321.5L47.3 324.7L47.7 322.3L48.0 311.5L48.4 314.7L48.7 318.1L49.1 318.5L49.4 316.3L49.8 314.8L50.1 312.7L50.5 316.7L50.8 318.2L51.2 314.1L51.5 310.1L51.9 318.6L52.2 314.2L52.6 314.6L52.9 316.1L53.3 314.2L53.6 310.4L54.0 311.3L54.3 308.8L54.7 306.4L55.0 306.7L55.4 301.6L55.7 301.4L56.1 302.7L56.4 303.3L56.8 300.4L57.1 302.2L57.5 298.7L57.8 300.2L58.2 297.7L58.5 302.9L58.9 299.3L59.2 296.6L59.6 297.1L59.9 293.0L60.3 296.3L60.6 294.7L61.0 293.7L61.3 292.0L61.7 287.0L62.0 286.0L62.4 288.5L62.7 287.9L63.1 292.5L63.4 291.0L63.8 290.0L64.1 291.0L64.5 294.8L64.8 291.4L65.2 292.6L65.5 289.1L65.9 289.7L66.2 290.4L66.6 288.5L66.9 289.2L67.3 287.4L67.6 289.7L68.0 292.0L68.3 290.4L68.7 293.6L69.0 290.7L69.4 287.8L69.7 289.8L70.1 291.9L70.4 291.9L70.8 292.7L71.1 292.0L71.5 293.4L71.8 291.6L72.2 291.7L72.5 291.6L72.9 288.6L73.2 291.8L73.6 290.3L73.9 291.4L74.3 291.4L74.6 291.0L75.0 290.0L75.3 285.8L75.7 287.6L76.0 291.0L76.4 292.0L76.7 286.6L77.1 288.8L77.4 287.1L77.8 284.0L78.1 284.1L78.5 284.4L78.8 284.1L79.2 287.0L79.5 284.2L79.9 283.2L80.2 278.7L80.6 278.5L80.9 280.6L81.3 281.5L81.6 280.9L82.0 278.1L82.3 274.6L82.7 271.9L83.0 279.1L83.4 275.8L83.7 277.0L84.1 276.8L84.4 270.6L84.8 268.4L85.1 271.2L85.5 272.8L85.8 269.9L86.2 269.0L86.5 271.9L86.9 274.2L87.2 268.4L87.6 266.2L87.9 269.2L88.3 267.7L88.6 264.2L89.0 267.6L89.3 270.2L89.7 268.4L90.0 264.4L90.4 263.6L90.7 261.5L91.1 264.7L91.4 266.8L91.8 266.4L92.1 265.5L92.5 266.2L92.8 266.5L93.2 263.0L93.5 261.6L93.9 267.1L94.2 267.4L94.6 267.3L94.9 264.0L95.3 264.8L95.6 265.7L96.0 262.8L96.3 267.0L96.7 266.4L97.0 270.6L97.4 265.1L97.7 264.2L98.1 264.4L98.4 264.8L98.8 261.6L99.1 259.7L99.5 258.2L99.8 261.4L100.2 258.0L100.5 257.6L100.9 258.0L101.2 257.9L101.6 258.4L101.9 257.1L102.3 258.0L102.6 256.9L103.0 254.6L103.3 257.3L103.7 255.7L104.0 254.3L104.4 250.1L104.7 253.3L105.1 254.0L105.4 252.0L105.8 252.6L106.1 253.5L106.5 251.9L106.8 248.7L107.2 251.1L107.5 251.7L107.9 249.6L108.2 247.8L108.6 248.7L108.9 253.4L109.3 250.8L109.6 246.6L110.0 250.1L110.3 251.4L110.7 251.9L111.0 251.9L111.4 251.7L111.7 250.4L112.1 247.0L112.4 246.8L112.8 248.5L113.1 244.8L113.5 247.7L113.8 242.8L114.2 241.9L114.5 245.3L114.9 243.5L115.2 241.8L115.6 242.6L115.9 248.1L116.3 250.1L116.6 247.2L117.0 250.3L117.3 250.3L117.7 250.8L118.0 245.3L118.4 246.6L118.7 242.3L119.1 245.0L119.4 246.1L119.8 245.0L120.1 242.8L120.5 242.4L120.8 243.2L121.2 244.6L121.5 243.4L121.9 244.1L122.2 242.4L122.6 245.9L122.9 245.3L123.3 248.8L123.6 247.3L124.0 247.3L124.3 248.3L124.7 250.2L125.0 250.3L125.4 253.2L125.7 251.5L126.1 254.1L126.4 254.4" fill="none" stroke="#000" stroke-width="1.45" stroke-linejoin="round"/>
<path d="M38.9 337.6L39.2 337.5L39.6 337.5L40.0 338.2L40.3 338.1L40.7 337.9L41.0 339.8L41.4 338.4L41.7 337.9L42.1 338.4L42.4 338.8L42.8 339.3L43.1 339.6L43.5 339.4L43.8 337.9L44.2 337.4L44.5 337.4L44.9 338.5L45.2 338.7L45.6 338.4L45.9 339.0L46.3 338.8L46.6 337.8L47.0 337.3L47.3 336.8L47.7 336.6L48.0 337.4L48.4 338.1L48.7 337.0L49.1 336.6L49.4 335.9L49.8 336.0L50.1 336.0L50.5 336.3L50.8 337.0L51.2 336.7L51.5 336.9L51.9 336.6L52.2 336.9L52.6 337.8L52.9 338.3L53.3 338.4L53.6 338.5L54.0 338.9L54.3 336.7L54.7 336.8L55.0 336.3L55.4 335.3L55.7 336.2L56.1 336.5L56.4 335.6L56.8 337.2L57.1 337.1L57.5 335.7L57.8 335.2L58.2 337.5L58.5 337.7L58.9 336.3L59.2 336.3L59.6 337.4L59.9 337.0L60.3 336.1L60.6 335.9L61.0 335.7L61.3 334.8L61.7 334.1L62.0 334.5L62.4 335.9L62.7 336.2L63.1 336.7L63.4 335.4L63.8 336.7L64.1 336.2L64.5 336.3L64.8 337.0L65.2 336.0L65.5 336.5L65.9 338.0L66.2 336.6L66.6 336.5L66.9 338.0L67.3 338.2L67.6 337.3L68.0 335.9L68.3 335.6L68.7 336.5L69.0 336.8L69.4 337.1L69.7 337.8L70.1 336.6L70.4 336.4L70.8 337.6L71.1 337.1L71.5 336.3L71.8 337.3L72.2 337.9L72.5 336.9L72.9 336.7L73.2 336.8L73.6 336.9L73.9 336.9L74.3 336.2L74.6 335.0L75.0 335.6L75.3 336.2L75.7 336.5L76.0 337.4L76.4 337.9L76.7 337.6L77.1 337.7L77.4 335.8L77.8 336.5L78.1 338.8L78.5 338.6L78.8 337.4L79.2 336.7L79.5 337.3L79.9 337.2L80.2 335.8L80.6 336.0L80.9 337.5L81.3 337.2L81.6 336.5L82.0 336.0L82.3 337.6L82.7 337.9L83.0 336.7L83.4 336.0L83.7 336.1L84.1 337.1L84.4 336.5L84.8 334.5L85.1 335.2L85.5 335.8L85.8 334.6L86.2 334.5L86.5 335.0L86.9 334.6L87.2 335.3L87.6 335.6L87.9 336.1L88.3 335.9L88.6 335.1L89.0 334.7L89.3 334.5L89.7 334.1L90.0 333.3L90.4 334.8L90.7 337.3L91.1 337.6L91.4 336.5L91.8 336.1L92.1 336.4L92.5 336.0L92.8 335.0L93.2 335.1L93.5 336.3L93.9 335.6L94.2 334.0L94.6 334.5L94.9 336.1L95.3 335.0L95.6 334.9L96.0 333.2L96.3 333.7L96.7 335.5L97.0 336.1L97.4 335.6L97.7 334.7L98.1 334.1L98.4 335.2L98.8 335.2L99.1 335.0L99.5 335.4L99.8 334.2L100.2 333.9L100.5 335.1L100.9 333.5L101.2 333.6L101.6 333.7L101.9 332.0L102.3 331.0L102.6 331.2L103.0 332.1L103.3 332.6L103.7 331.9L104.0 330.9L104.4 329.5L104.7 328.7L105.1 329.0L105.4 330.3L105.8 329.2L106.1 326.8L106.5 326.9L106.8 328.8L107.2 329.1L107.5 328.3L107.9 327.8L108.2 328.7L108.6 328.5L108.9 327.7L109.3 329.4L109.6 329.3L110.0 329.4L110.3 331.2L110.7 330.9L111.0 329.2L111.4 330.8L111.7 332.6L112.1 332.4L112.4 330.3L112.8 329.6L113.1 329.9L113.5 331.2L113.8 332.9L114.2 333.1L114.5 332.7L114.9 331.4L115.2 330.9L115.6 331.3L115.9 331.1L116.3 330.0L116.6 328.6L117.0 328.6L117.3 329.8L117.7 329.0L118.0 327.9L118.4 327.5L118.7 328.1L119.1 328.2L119.4 327.4L119.8 326.6L120.1 325.0L120.5 322.4L120.8 323.9L121.2 326.2L121.5 326.3L121.9 326.8L122.2 328.4L122.6 328.9L122.9 328.4L123.3 329.0L123.6 327.9L124.0 326.5L124.3 326.4L124.7 327.1L125.0 325.9L125.4 325.5L125.7 325.4L126.1 324.1L126.4 323.5" fill="none" stroke="#000" stroke-width="1.45" stroke-linejoin="round"/>
<path d="M38.9 341.3L39.2 341.5L39.6 341.7L40.0 342.1L40.3 342.3L40.7 341.7L41.0 341.0L41.4 340.6L41.7 341.5L42.1 341.7L42.4 341.7L42.8 341.7L43.1 341.5L43.5 341.5L43.8 341.5L44.2 341.9L44.5 342.0L44.9 341.6L45.2 341.0L45.6 341.3L45.9 341.8L46.3 341.8L46.6 341.4L47.0 341.4L47.3 341.7L47.7 341.2L48.0 341.1L48.4 341.7L48.7 341.8L49.1 341.6L49.4 341.6L49.8 341.4L50.1 341.7L50.5 341.9L50.8 341.1L51.2 340.7L51.5 341.0L51.9 341.2L52.2 341.6L52.6 341.0L52.9 341.0L53.3 342.0L53.6 341.7L54.0 341.7L54.3 341.7L54.7 341.3L55.0 341.3L55.4 341.8L55.7 342.2L56.1 342.1L56.4 341.5L56.8 341.2L57.1 341.2L57.5 341.2L57.8 341.7L58.2 342.0L58.5 341.8L58.9 341.5L59.2 341.5L59.6 341.1L59.9 341.6L60.3 342.0L60.6 342.0L61.0 342.1L61.3 341.3L61.7 340.9L62.0 341.5L62.4 341.9L62.7 341.9L63.1 341.6L63.4 341.7L63.8 341.4L64.1 341.1L64.5 341.0L64.8 341.4L65.2 341.8L65.5 341.7L65.9 341.5L66.2 340.6L66.6 340.5L66.9 341.2L67.3 341.5L67.6 341.7L68.0 342.0L68.3 341.6L68.7 341.5L69.0 341.1L69.4 341.1L69.7 341.0L70.1 340.9L70.4 340.9L70.8 340.9L71.1 342.0L71.5 341.8L71.8 341.5L72.2 341.9L72.5 340.9L72.9 340.1L73.2 340.8L73.6 341.1L73.9 340.9L74.3 342.0L74.6 342.7L75.0 342.1L75.3 341.3L75.7 341.3L76.0 341.6L76.4 341.4L76.7 341.8L77.1 341.3L77.4 341.3L77.8 341.7L78.1 341.6L78.5 341.7L78.8 341.1L79.2 341.0L79.5 341.2L79.9 341.5L80.2 342.3L80.6 342.7L80.9 341.8L81.3 341.0L81.6 341.0L82.0 341.5L82.3 341.0L82.7 340.8L83.0 341.7L83.4 341.6L83.7 340.7L84.1 341.1L84.4 342.0L84.8 341.7L85.1 341.3L85.5 341.7L85.8 341.8L86.2 341.3L86.5 341.0L86.9 341.2L87.2 341.3L87.6 341.6L87.9 341.3L88.3 341.1L88.6 341.4L89.0 340.6L89.3 340.9L89.7 341.5L90.0 340.9L90.4 340.4L90.7 341.0L91.1 342.0L91.4 341.8L91.8 341.2L92.1 341.4L92.5 341.3L92.8 340.9L93.2 341.4L93.5 341.2L93.9 341.3L94.2 341.7L94.6 341.7L94.9 341.1L95.3 341.1L95.6 341.6L96.0 341.4L96.3 341.2L96.7 340.7L97.0 341.3L97.4 341.7L97.7 341.5L98.1 341.6L98.4 341.6L98.8 340.9L99.1 340.7L99.5 341.0L99.8 341.7L100.2 342.2L100.5 341.3L100.9 340.5L101.2 341.0L101.6 341.6L101.9 341.8L102.3 341.3L102.6 341.3L103.0 341.7L103.3 341.6L103.7 341.6L104.0 341.1L104.4 340.8L104.7 341.4L105.1 340.6L105.4 340.6L105.8 341.7L106.1 341.2L106.5 341.2L106.8 341.4L107.2 340.8L107.5 340.7L107.9 341.2L108.2 341.3L108.6 340.9L108.9 341.1L109.3 341.6L109.6 341.7L110.0 341.6L110.3 341.6L110.7 341.4L111.0 340.8L111.4 340.6L111.7 340.7L112.1 341.1L112.4 341.1L112.8 340.7L113.1 341.0L113.5 340.9L113.8 340.3L114.2 340.0L114.5 340.5L114.9 341.6L115.2 341.3L115.6 341.1L115.9 340.8L116.3 340.4L116.6 340.5L117.0 340.9L117.3 341.0L117.7 341.0L118.0 340.8L118.4 340.3L118.7 340.8L119.1 341.3L119.4 341.3L119.8 341.0L120.1 340.9L120.5 340.7L120.8 340.3L121.2 340.8L121.5 340.9L121.9 340.4L122.2 340.4L122.6 341.2L122.9 341.4L123.3 341.0L123.6 341.1L124.0 341.7L124.3 341.7L124.7 341.3L125.0 341.6L125.4 341.4L125.7 341.1L126.1 340.6L126.4 340.7" fill="none" stroke="#000" stroke-width="1.5" stroke-linejoin="round"/>
<path d="M38.9 343.4L39.6 343.5L40.3 343.3L41.0 343.1L41.7 342.9L42.4 343.1L43.1 343.3L43.8 343.1L44.5 342.6L45.2 342.8L45.9 343.0L46.6 343.1L47.3 343.5L48.0 343.3L48.7 343.3L49.4 343.5L50.1 343.2L50.8 342.8L51.5 343.1L52.2 343.7L52.9 343.5L53.6 343.3L54.3 343.1L55.0 342.7L55.7 342.6L56.4 342.7L57.1 342.6L57.8 342.7L58.5 342.9L59.2 343.1L59.9 343.5L60.6 343.4L61.3 343.3L62.0 343.2L62.7 343.1L63.4 343.2L64.1 343.1L64.8 343.1L65.5 343.1L66.2 342.9L66.9 342.9L67.6 343.4L68.3 343.5L69.0 343.2L69.7 343.2L70.4 343.1L71.1 343.0L71.8 343.1L72.5 342.9L73.2 342.9L73.9 343.3L74.6 343.4L75.3 343.3L76.0 343.4L76.7 343.3L77.4 343.3L78.1 343.6L78.8 343.5L79.5 343.6L80.2 343.4L80.9 343.2L81.6 343.3L82.3 343.1L83.0 343.1L83.7 343.3L84.4 343.5L85.1 343.5L85.8 343.3L86.5 343.2L87.2 343.3L87.9 343.2L88.6 343.2L89.3 343.0L90.0 342.8L90.7 343.1L91.4 343.2L92.1 343.4L92.8 343.4L93.5 343.6L94.2 343.4L94.9 343.4L95.6 343.5L96.3 343.0L97.0 343.1L97.7 343.2L98.4 343.2L99.1 343.3L99.8 343.4L100.5 343.6L101.2 343.4L101.9 343.5L102.6 343.7L103.3 343.5L104.0 343.6L104.7 343.6L105.4 343.7L106.1 343.5L106.8 343.5L107.5 343.6L108.2 343.5L108.9 343.5L109.6 343.7L110.3 343.8L111.0 343.7L111.7 343.4L112.4 343.0L113.1 343.3L113.8 343.8L114.5 343.8L115.2 343.3L115.9 343.6L116.6 343.7L117.3 343.6L118.0 343.5L118.7 343.3L119.4 343.5L120.1 343.1L120.8 342.9L121.5 343.3L122.2 343.4L122.9 343.2L123.6 343.5L124.3 343.7L125.0 343.5L125.7 343.2L126.4 343.2L126.4 354.5L125.7 354.8L125.0 355.0L124.3 354.7L123.6 354.8L122.9 354.7L122.2 354.3L121.5 354.3L120.8 354.6L120.1 354.8L119.4 354.7L118.7 354.2L118.0 353.9L117.3 354.3L116.6 354.7L115.9 354.7L115.2 354.8L114.5 354.8L113.8 354.3L113.1 353.8L112.4 354.2L111.7 354.5L111.0 354.4L110.3 354.8L109.6 354.8L108.9 354.2L108.2 353.9L107.5 354.3L106.8 354.6L106.1 354.0L105.4 354.1L104.7 354.2L104.0 354.0L103.3 354.4L102.6 354.4L101.9 354.1L101.2 354.0L100.5 354.0L99.8 354.2L99.1 354.5L98.4 354.8L97.7 355.0L97.0 355.2L96.3 354.8L95.6 354.7L94.9 355.1L94.2 355.0L93.5 355.0L92.8 354.6L92.1 354.0L91.4 354.5L90.7 355.0L90.0 354.6L89.3 354.6L88.6 354.6L87.9 354.3L87.2 354.5L86.5 354.7L85.8 354.7L85.1 354.8L84.4 354.3L83.7 354.0L83.0 354.1L82.3 354.3L81.6 354.7L80.9 354.8L80.2 354.7L79.5 354.3L78.8 354.2L78.1 354.4L77.4 354.5L76.7 354.3L76.0 354.4L75.3 354.2L74.6 354.3L73.9 354.5L73.2 354.0L72.5 353.8L71.8 354.4L71.1 354.6L70.4 354.0L69.7 354.1L69.0 354.6L68.3 354.7L67.6 354.5L66.9 354.4L66.2 354.4L65.5 354.5L64.8 354.3L64.1 354.3L63.4 354.5L62.7 354.1L62.0 354.2L61.3 354.3L60.6 354.2L59.9 354.4L59.2 354.7L58.5 354.3L57.8 353.9L57.1 353.8L56.4 354.1L55.7 354.3L55.0 354.6L54.3 354.4L53.6 354.0L52.9 354.3L52.2 354.1L51.5 354.0L50.8 354.1L50.1 354.0L49.4 353.9L48.7 354.2L48.0 354.8L47.3 354.4L46.6 354.1L45.9 354.4L45.2 354.3L44.5 354.3L43.8 354.3L43.1 354.2L42.4 354.4L41.7 354.5L41.0 354.3L40.3 354.2L39.6 354.4L38.9 354.4Z" fill="#000" stroke="none"/>
<path d="M38.9 346.5L39.6 346.4L40.3 346.3L41.0 346.8L41.7 346.8L42.4 346.8L43.1 346.6L43.8 346.6L44.5 347.1L45.2 346.6L45.9 346.7L46.6 346.5L47.3 346.6L48.0 346.6L48.7 346.2L49.4 346.2L50.1 346.5L50.8 346.7L51.5 346.5L52.2 346.6L52.9 346.8L53.6 347.1L54.3 346.8L55.0 346.5L55.7 346.6L56.4 346.7L57.1 346.8L57.8 346.5L58.5 346.6L59.2 346.8L59.9 346.9L60.6 346.7L61.3 346.4L62.0 346.4L62.7 346.4L63.4 346.6L64.1 346.7L64.8 346.6L65.5 346.6L66.2 346.7L66.9 346.8L67.6 346.8L68.3 346.6L69.0 346.6L69.7 346.7L70.4 346.8L71.1 346.8L71.8 346.8L72.5 346.7L73.2 346.9L73.9 347.2L74.6 346.9L75.3 346.9L76.0 346.6L76.7 347.0L77.4 347.0L78.1 347.4L78.8 347.2L79.5 347.2L80.2 346.5L80.9 346.6L81.6 346.0L82.3 346.3L83.0 346.1L83.7 346.3L84.4 346.4L85.1 346.4L85.8 346.5L86.5 346.3L87.2 346.4L87.9 346.7L88.6 346.8L89.3 346.7L90.0 346.4L90.7 346.5L91.4 346.7L92.1 347.2L92.8 346.9L93.5 347.1L94.2 347.1L94.9 347.6L95.6 347.3L96.3 347.4L97.0 347.3L97.7 347.3L98.4 347.2L99.1 346.8L99.8 346.8L100.5 347.0L101.2 347.1L101.9 347.0L102.6 347.3L103.3 347.1L104.0 347.5L104.7 347.1L105.4 347.3L106.1 347.2L106.8 347.4L107.5 347.4L108.2 347.6L108.9 347.4L109.6 347.0L110.3 346.4L111.0 346.2L111.7 346.5L112.4 346.5L113.1 346.6L113.8 346.5L114.5 346.8L115.2 347.1L115.9 346.6L116.6 346.4L117.3 346.2L118.0 346.6L118.7 346.8L119.4 347.2L120.1 347.4L120.8 348.0L121.5 347.8L122.2 347.8L122.9 347.3L123.6 347.4L124.3 347.1L125.0 347.1L125.7 347.3L126.4 347.6" fill="none" stroke="#fff" stroke-width="0.8" opacity="0.95"/>
<path d="M38.9 349.6L39.6 349.8L40.3 349.8L41.0 349.7L41.7 349.7L42.4 350.1L43.1 349.9L43.8 349.7L44.5 349.4L45.2 349.4L45.9 349.8L46.6 349.5L47.3 349.7L48.0 349.6L48.7 350.0L49.4 350.1L50.1 349.5L50.8 349.5L51.5 349.4L52.2 349.8L52.9 349.6L53.6 349.5L54.3 349.4L55.0 349.8L55.7 349.8L56.4 349.9L57.1 349.6L57.8 349.7L58.5 350.0L59.2 350.3L59.9 350.4L60.6 350.1L61.3 349.8L62.0 349.4L62.7 349.5L63.4 349.6L64.1 349.9L64.8 349.8L65.5 349.9L66.2 350.1L66.9 350.3L67.6 350.4L68.3 350.3L69.0 350.6L69.7 350.3L70.4 350.3L71.1 349.9L71.8 350.1L72.5 350.0L73.2 350.1L73.9 350.0L74.6 350.0L75.3 350.3L76.0 350.5L76.7 350.6L77.4 350.3L78.1 350.2L78.8 350.2L79.5 350.4L80.2 350.5L80.9 350.7L81.6 350.4L82.3 350.4L83.0 350.4L83.7 350.4L84.4 350.3L85.1 350.2L85.8 349.9L86.5 349.9L87.2 350.1L87.9 350.6L88.6 350.7L89.3 350.4L90.0 350.3L90.7 350.1L91.4 350.1L92.1 349.7L92.8 349.5L93.5 350.0L94.2 350.2L94.9 350.1L95.6 349.6L96.3 349.3L97.0 350.0L97.7 350.0L98.4 350.2L99.1 350.2L99.8 350.6L100.5 350.6L101.2 350.4L101.9 350.0L102.6 350.3L103.3 350.4L104.0 350.6L104.7 350.3L105.4 350.5L106.1 350.4L106.8 350.8L107.5 350.7L108.2 350.6L108.9 350.4L109.6 350.2L110.3 350.2L111.0 350.3L111.7 350.3L112.4 350.2L113.1 350.2L113.8 350.2L114.5 350.4L115.2 350.3L115.9 350.0L116.6 350.1L117.3 350.3L118.0 350.5L118.7 350.8L119.4 350.7L120.1 350.7L120.8 350.8L121.5 350.9L122.2 351.2L122.9 351.1L123.6 350.9L124.3 350.5L125.0 350.6L125.7 350.4L126.4 350.5" fill="none" stroke="#fff" stroke-width="0.8" opacity="0.95"/>
<path d="M38.9 348.2L39.6 348.6L40.3 348.5L41.0 348.7L41.7 348.1L42.4 348.3L43.1 348.2L43.8 348.4L44.5 348.4L45.2 348.2L45.9 348.4L46.6 348.2L47.3 348.2L48.0 347.9L48.7 348.1L49.4 348.1L50.1 348.2L50.8 348.4L51.5 348.5L52.2 348.6L52.9 348.2L53.6 348.3L54.3 348.4L55.0 348.4L55.7 348.2L56.4 348.2L57.1 348.4L57.8 348.7L58.5 348.7L59.2 349.1L59.9 348.8L60.6 348.6L61.3 348.2L62.0 348.3L62.7 348.3L63.4 348.3L64.1 348.5L64.8 348.3L65.5 348.3L66.2 348.3L66.9 348.7L67.6 348.7L68.3 348.6L69.0 348.5L69.7 348.6L70.4 348.5L71.1 348.6L71.8 348.8L72.5 349.2L73.2 349.0L73.9 348.9L74.6 348.6L75.3 348.7L76.0 348.5L76.7 348.5L77.4 348.5L78.1 348.6L78.8 348.5L79.5 348.6L80.2 348.7L80.9 348.7L81.6 348.5L82.3 348.4L83.0 348.4L83.7 348.4L84.4 348.4L85.1 348.4L85.8 348.5L86.5 348.4L87.2 348.4L87.9 348.2L88.6 348.2L89.3 348.5L90.0 348.3L90.7 348.3L91.4 348.0L92.1 348.0L92.8 348.1L93.5 348.3L94.2 348.8L94.9 348.6L95.6 348.7L96.3 348.3L97.0 348.7L97.7 348.6L98.4 348.6L99.1 348.4L99.8 348.3L100.5 348.9L101.2 349.1L101.9 349.0L102.6 348.8L103.3 348.7L104.0 348.8L104.7 348.6L105.4 348.5L106.1 348.4L106.8 348.5L107.5 348.5L108.2 348.6L108.9 348.5L109.6 348.5L110.3 348.8L111.0 349.0L111.7 349.2L112.4 349.3L113.1 349.3L113.8 349.0L114.5 348.3L115.2 348.1L115.9 348.3L116.6 348.4L117.3 348.3L118.0 348.2L118.7 348.4L119.4 349.0L120.1 348.8L120.8 349.0L121.5 348.3L122.2 348.8L122.9 348.6L123.6 348.9L124.3 348.9L125.0 348.9L125.7 349.1L126.4 348.9" fill="none" stroke="#fff" stroke-width="0.5" opacity="0.7" stroke-dasharray="3 2 1 2 5 3"/>
<path d="M38.9 352.4L39.6 352.2L40.3 352.5L41.0 352.8L41.7 353.0L42.4 352.8L43.1 352.6L43.8 352.6L44.5 352.8L45.2 353.0L45.9 353.2L46.6 353.4L47.3 353.2L48.0 353.4L48.7 353.3L49.4 353.4L50.1 353.1L50.8 352.9L51.5 352.8L52.2 352.6L52.9 352.5L53.6 352.5L54.3 352.1L55.0 352.2L55.7 352.0L56.4 352.5L57.1 352.4L57.8 352.6L58.5 352.6L59.2 352.6L59.9 352.5L60.6 352.4L61.3 352.6L62.0 352.6L62.7 352.5L63.4 352.3L64.1 352.5L64.8 352.7L65.5 352.9L66.2 352.9L66.9 352.6L67.6 352.6L68.3 353.1L69.0 353.5L69.7 353.2L70.4 352.9L71.1 352.6L71.8 352.8L72.5 352.6L73.2 352.5L73.9 352.2L74.6 352.3L75.3 352.3L76.0 352.5L76.7 352.3L77.4 352.5L78.1 352.5L78.8 352.6L79.5 352.5L80.2 352.6L80.9 352.7L81.6 353.0L82.3 353.1L83.0 352.9L83.7 352.8L84.4 352.8L85.1 352.8L85.8 352.6L86.5 352.1L87.2 352.4L87.9 352.5L88.6 353.2L89.3 352.6L90.0 352.2L90.7 352.0L91.4 352.2L92.1 352.6L92.8 352.4L93.5 352.7L94.2 352.6L94.9 352.7L95.6 352.6L96.3 352.6L97.0 352.6L97.7 352.7L98.4 352.8L99.1 352.9L99.8 352.8L100.5 352.8L101.2 352.8L101.9 353.1L102.6 353.2L103.3 352.9L104.0 352.2L104.7 351.9L105.4 351.7L106.1 351.6L106.8 351.6L107.5 351.8L108.2 352.3L108.9 352.6L109.6 353.1L110.3 353.0L111.0 352.8L111.7 352.4L112.4 352.8L113.1 352.8L113.8 352.6L114.5 352.0L115.2 352.2L115.9 352.3L116.6 353.0L117.3 353.2L118.0 353.5L118.7 353.3L119.4 353.2L120.1 352.6L120.8 352.6L121.5 352.4L122.2 352.8L122.9 352.6L123.6 352.7L124.3 352.3L125.0 352.7L125.7 352.8L126.4 352.8" fill="none" stroke="#fff" stroke-width="0.5" opacity="0.6" stroke-dasharray="4 3 2 2 6 4"/>
<path d="M33.9 348.2H39.2" stroke="#000" stroke-width="4.5" fill="none"/>
<path d="M39 332.5V356.5" stroke="#000" stroke-width="1.5" fill="none"/>
<path d="M126.6 250V384.6" stroke="#000" stroke-width="1.25" fill="none"/>
<path d="M126.6 384L127.2 368L127.9 358L128.8 352.5L130 350" stroke="#000" stroke-width="1.3" fill="none" stroke-linejoin="round"/>
<path d="M126.4 345.2L127.4 344.3L128.4 343.6L129.4 343.5L130.4 343.4L131.4 343.6L132.4 343.9L133.4 344.0L134.4 344.0L135.4 343.8L136.4 344.0L137.4 344.1L138.4 344.0L139.4 344.0L140.4 344.1L141.4 344.0L142.4 343.8L143.4 344.0L144.4 344.2L145.4 344.1L146.4 344.1L147.4 344.1L148.4 344.1L149.4 344.5L150.4 344.8L151.4 344.5L152.4 344.4L153.4 344.4L154.4 344.2L155.4 344.3L156.4 344.4L157.4 344.3L158.4 344.2L159.4 344.2L160.4 344.4L161.4 344.5L162.4 344.3L163.4 344.4L164.4 344.6L165.4 344.5L166.4 344.7L167.4 344.7L168.4 344.3L169.4 344.4L170.4 344.5L171.4 344.6L172.4 344.8L173.4 344.7L174.4 344.7L175.4 344.7L176.4 344.6L177.4 344.4L178.4 344.2L179.4 344.4L180.4 345.0L180.4 350.1L179.4 350.5L178.4 350.3L177.4 350.0L176.4 349.9L175.4 350.2L174.4 350.4L173.4 350.3L172.4 350.4L171.4 350.6L170.4 350.6L169.4 350.7L168.4 350.6L167.4 350.4L166.4 350.1L165.4 350.5L164.4 350.7L163.4 350.5L162.4 350.6L161.4 350.7L160.4 350.7L159.4 350.7L158.4 350.6L157.4 350.6L156.4 350.8L155.4 351.0L154.4 350.9L153.4 351.0L152.4 350.9L151.4 350.8L150.4 351.1L149.4 351.1L148.4 351.0L147.4 351.2L146.4 351.2L145.4 351.1L144.4 351.1L143.4 351.4L142.4 351.6L141.4 351.6L140.4 351.6L139.4 351.4L138.4 351.6L137.4 351.9L136.4 352.0L135.4 352.1L134.4 352.0L133.4 352.0L132.4 352.0L131.4 352.2L130.4 352.3L129.4 352.1L128.4 352.1L127.4 352.1L126.4 351.9Z" fill="#000" stroke="none"/>
<path d="M131 346.3h10" stroke="#fff" stroke-width="0.6" opacity="0.7"/>
<path d="M133 349.6h14" stroke="#fff" stroke-width="0.6" opacity="0.7"/>
<path d="M146 347.0h9" stroke="#fff" stroke-width="0.6" opacity="0.7"/>
<path d="M150 349.3h8" stroke="#fff" stroke-width="0.6" opacity="0.7"/>
<path d="M324.0 296.9L324.2 294.5L324.4 295.6L324.6 303.2L324.8 302.5L325.0 296.7L325.2 300.8L325.4 301.4L325.6 302.0L325.8 297.9L326.0 298.0L326.2 296.3L326.4 298.6L326.6 300.7L326.8 299.7L327.0 299.6L327.2 298.1L327.4 301.0L327.6 302.5L327.8 302.1L328.0 301.7L328.2 305.1L328.4 301.7L328.6 301.0L328.8 300.7L329.0 302.9L329.2 301.5L329.4 302.9L329.6 302.0L329.8 300.8L330.0 302.5L330.2 300.8L330.4 300.5L330.6 298.5L330.8 298.2L331.0 302.0L331.2 303.3L331.4 303.4L331.6 305.9L331.8 305.3L332.0 299.6L332.2 293.8L332.4 295.2L332.6 296.6L332.8 295.7L333.0 300.3L333.2 296.8L333.4 298.3L333.6 298.2L333.8 298.4L334.0 298.5L334.2 298.5L334.4 295.6L334.6 296.9L334.8 296.0L335.0 296.9L335.2 294.8L335.4 292.8L335.6 293.4L335.8 290.7L336.0 289.1L336.2 294.3L336.4 294.1L336.6 292.2L336.8 292.8L337.0 296.6L337.2 299.1L337.4 299.3L337.6 297.1L337.8 295.8L338.0 294.1L338.2 296.6L338.4 298.7L338.6 299.9L338.8 300.1L339.0 298.6L339.2 299.4L339.4 298.0L339.6 299.9L339.8 301.4L340.0 303.1L340.2 304.2L340.4 304.2L340.6 302.4L340.8 299.6L341.0 302.1L341.2 304.5L341.4 303.6L341.6 303.9L341.8 302.7L342.0 300.5L342.2 301.9L342.4 300.5L342.6 302.4L342.8 301.0L343.0 304.3L343.2 304.1L343.4 306.0L343.6 305.6L343.8 306.1L344.0 304.0L344.2 301.7L344.4 301.1L344.6 302.8L344.8 301.9L345.0 304.1L345.2 302.9L345.4 300.7L345.6 303.0L345.8 301.8L346.0 304.2L346.2 306.6L346.4 304.1L346.6 297.8L346.8 299.0L347.0 302.3L347.2 301.6L347.4 298.2L347.6 296.8L347.8 297.6L348.0 300.1L348.2 300.7L348.4 302.5L348.6 300.4L348.8 300.1L349.0 301.9L349.2 302.9L349.4 301.7L349.6 301.1L349.8 303.3L350.0 302.0L350.2 303.5L350.4 304.9L350.6 300.5L350.8 301.5L351.0 303.8L351.2 310.1L351.4 309.4L351.6 305.8L351.8 304.9L352.0 306.0L352.2 310.2L352.4 308.0L352.6 308.7L352.8 310.6L353.0 306.8L353.2 305.7L353.4 304.5L353.6 303.9L353.8 306.2L354.0 305.0L354.2 303.6L354.4 305.1L354.6 302.9L354.8 302.5L355.0 304.0L355.2 309.3L355.4 306.7L355.6 305.9L355.8 303.0L356.0 305.0L356.2 304.4L356.4 303.5L356.6 305.2L356.8 305.4L357.0 303.3L357.2 304.8L357.4 301.5L357.6 300.5L357.8 299.2L358.0 300.9L358.2 302.8L358.4 301.7L358.6 300.2L358.8 299.1L359.0 302.8L359.2 300.3L359.4 300.4L359.6 300.9L359.8 305.6L360.0 307.7L360.2 306.7L360.4 304.2L360.6 303.2L360.8 305.5L361.0 303.4L361.2 297.9L361.4 301.1L361.6 304.1L361.8 303.7L362.0 308.8L362.2 306.2L362.4 305.0L362.6 303.9L362.8 307.8L363.0 307.1L363.2 307.3L363.4 308.3L363.6 309.1L363.8 302.8L364.0 300.0L364.2 297.6L364.4 301.3L364.6 303.7L364.8 300.7L365.0 300.4L365.2 301.2L365.4 301.1L365.6 304.8L365.8 305.3L366.0 304.5L366.2 303.6L366.4 305.0L366.6 305.9L366.8 306.6L367.0 303.9L367.2 304.5L367.4 306.0L367.6 307.1L367.8 302.7L368.0 301.3L368.2 303.2L368.4 304.4L368.6 305.1L368.8 301.0L369.0 302.5L369.2 301.3L369.4 301.7L369.6 304.1L369.8 302.5L370.0 302.2L370.2 302.9L370.4 305.0L370.6 304.7L370.8 303.6L371.0 303.1L371.2 305.9L371.4 305.8L371.6 309.3L371.8 306.0L372.0 306.7L372.2 305.4L372.4 306.0L372.6 301.8L372.8 304.0L373.0 308.7L373.2 304.2L373.4 303.4L373.6 303.1L373.8 307.8L374.0 306.5L374.2 308.0L374.4 305.2L374.6 304.7L374.8 303.5L375.0 302.9L375.2 301.0L375.4 298.0L375.6 296.7L375.8 298.7L376.0 300.3L376.2 302.2L376.4 301.7L376.6 300.7L376.8 300.2L377.0 299.1L377.2 300.9L377.4 303.0L377.6 307.1L377.8 305.1L378.0 305.7L378.2 303.3L378.4 303.0L378.6 302.8L378.8 299.2L379.0 299.7L379.2 301.5L379.4 302.0L379.6 302.6L379.8 297.4L380.0 298.2L380.2 299.8L380.4 301.0L380.6 299.9L380.8 303.7L381.0 304.9L381.2 305.7L381.4 301.2L381.6 299.8L381.8 300.3L382.0 303.0L382.2 301.8L382.4 301.9L382.6 301.6L382.8 302.5L383.0 302.1L383.2 300.4L383.4 300.0L383.6 298.5L383.8 298.7L384.0 303.1L384.2 299.2L384.4 303.6L384.6 301.6L384.8 300.1L385.0 300.3L385.2 303.3L385.4 301.8L385.6 297.8L385.8 299.8L386.0 301.8L386.2 300.9L386.4 299.1L386.6 301.3L386.8 305.3L387.0 302.4L387.2 303.4L387.4 302.9L387.6 302.8L387.8 303.0L388.0 306.1L388.2 303.3L388.4 302.5L388.6 301.1L388.8 298.3L389.0 299.2L389.2 301.3L389.4 299.6L389.6 299.4L389.8 299.9L390.0 301.0L390.2 300.3L390.4 303.2L390.6 304.3L390.8 300.2L391.0 300.1L391.2 302.4L391.4 301.1L391.6 300.7L391.8 303.2L392.0 303.0L392.2 301.4L392.4 302.5L392.6 301.1L392.8 301.3L393.0 300.2L393.2 303.0L393.4 302.7L393.6 302.5L393.8 302.4L394.0 302.4L394.2 301.3L394.4 295.6L394.6 296.0L394.8 292.9L395.0 296.2L395.2 297.0L395.4 297.2L395.6 296.2L395.8 296.8L396.0 295.0L396.2 295.6L396.4 297.2L396.6 299.9L396.8 299.2L397.0 299.2L397.2 300.0L397.4 301.0L397.6 300.1L397.8 299.9L398.0 303.1L398.2 304.5L398.4 303.7L398.6 301.6L398.8 303.2L399.0 302.6L399.2 301.2L399.4 300.2L399.6 300.4L399.8 301.4L400.0 299.1L400.2 296.6L400.4 296.6L400.6 295.4L400.8 301.3L401.0 300.3L401.2 298.9L401.4 302.4L401.6 300.4L401.8 300.4L402.0 298.5L402.2 296.1L402.4 298.1L402.6 296.1L402.8 299.1L403.0 301.5L403.2 296.8L403.4 296.5L403.6 299.5L403.8 298.8L404.0 300.9L404.2 300.3L404.4 302.1L404.6 301.9L404.8 298.9L405.0 298.9L405.2 302.4L405.4 300.1L405.6 301.1L405.8 299.5L406.0 301.8L406.2 302.0L406.4 302.6L406.6 300.3L406.8 297.8L407.0 298.4L407.2 297.3L407.4 297.8L407.6 299.5L407.8 301.0L408.0 302.6L408.2 304.5L408.4 303.0L408.6 307.0L408.8 303.5L409.0 305.4L409.2 308.9L409.4 303.8L409.6 303.2L409.8 304.8L410.0 305.3L410.2 305.3L410.4 304.5L410.6 302.7L410.8 301.1L411.0 303.7L411.2 305.7L411.4 307.6L411.6 306.5L411.8 300.8L412.0 303.4L412.2 304.8L412.4 301.5L412.6 302.7L412.8 301.4L413.0 301.2L413.2 304.4L413.4 305.6L413.6 307.5L413.8 305.3L414.0 303.1L414.2 304.7L414.4 307.8L414.6 305.9L414.8 306.9L415.0 305.9L415.2 303.8L415.4 302.0L415.6 304.3L415.8 305.4L416.0 305.7L416.2 304.4L416.4 302.2L416.6 306.7L416.8 304.6L417.0 307.5L417.2 305.8L417.4 305.0L417.6 308.9L417.8 308.0L418.0 305.4L418.2 306.1L418.4 306.0L418.6 307.0L418.8 305.3L419.0 306.0L419.2 305.6L419.4 307.5L419.6 307.2L419.8 302.7L420.0 301.7L420.2 299.8L420.4 303.2L420.6 301.1L420.8 301.5L421.0 300.9L421.2 299.9L421.4 298.9L421.6 297.6L421.8 300.0L422.0 300.3L422.2 297.6L422.4 296.9L422.6 300.8L422.8 302.4L423.0 299.1L423.2 303.5L423.4 301.9L423.6 299.9L423.8 300.8L424.0 303.2L424.2 300.9L424.4 296.7L424.6 299.1L424.8 302.2L425.0 301.5L425.2 299.7L425.4 299.7L425.6 300.6L425.8 299.3L426.0 297.8L426.2 294.8L426.4 299.5L426.6 300.4L426.8 299.8L427.0 295.1L427.2 293.6L427.4 297.2L427.6 301.3L427.8 296.8L428.0 295.8L428.2 295.5L428.4 294.8L428.6 297.0L428.8 298.8L429.0 298.6L429.2 294.8L429.4 295.3L429.6 295.6L429.8 296.3L430.0 296.6L430.2 297.0L430.4 294.9L430.6 291.7L430.8 294.5L431.0 294.1L431.2 294.5L431.4 296.7L431.6 294.1L431.8 298.8L432.0 301.1L432.2 295.7L432.4 298.0L432.6 296.9L432.8 301.0L433.0 294.5L433.2 295.9L433.4 295.7L433.6 295.3L433.8 295.3L434.0 299.2L434.2 296.4L434.4 294.5L434.6 297.0L434.8 298.1L435.0 298.1L435.2 298.7L435.4 297.7L435.6 294.8L435.8 296.2L436.0 297.8L436.2 293.7L436.4 294.1L436.6 295.6L436.8 292.6L437.0 293.4L437.2 290.0L437.4 291.6L437.6 294.9L437.8 294.1L438.0 298.7L438.2 299.8L438.4 297.6L438.6 296.9L438.8 298.1L439.0 297.4L439.2 300.2L439.4 296.9L439.6 296.3L439.8 295.3L440.0 294.4L440.2 292.1L440.4 292.9L440.6 295.5L440.8 296.2L441.0 290.8L441.2 293.4L441.4 294.2L441.6 294.9L441.8 293.9L442.0 292.6L442.2 296.7L442.4 298.2L442.6 300.3L442.8 300.2L443.0 301.4L443.2 301.3L443.4 297.3L443.6 298.7L443.8 298.1L444.0 298.7L444.2 300.6L444.4 300.7L444.6 299.7L444.8 296.9L445.0 293.6L445.2 294.3L445.4 299.8L445.6 303.3L445.8 298.8L446.0 299.0L446.2 300.0L446.4 299.0L446.6 300.7L446.8 302.0L447.0 299.3L447.2 297.6L447.4 299.5L447.6 297.4L447.8 296.0L448.0 297.6L448.2 296.6L448.4 298.8L448.6 298.1L448.8 298.8L449.0 300.3L449.2 295.1L449.4 295.9L449.6 298.5L449.8 295.9L450.0 297.4L450.2 293.1L450.4 291.1L450.6 291.4L450.8 289.6L451.0 288.0L451.2 288.0" fill="none" stroke="#000" stroke-width="1.5" stroke-linejoin="round"/>
<path d="M450.6 290.2L450.8 292.9L450.9 295.1L451.1 295.9L451.2 289.7L451.4 291.6L451.6 293.0L451.7 290.7L451.9 285.1L452.0 288.4L452.2 284.1L452.4 284.2L452.5 281.8L452.7 283.6L452.8 283.2L453.0 283.3L453.2 281.9L453.3 287.0L453.5 284.9L453.6 286.2L453.8 284.2L454.0 285.5L454.1 284.0L454.3 284.6L454.4 286.5L454.6 281.9L454.8 280.3L454.9 282.7L455.1 285.1L455.2 285.0L455.4 279.5L455.6 279.5L455.7 281.0L455.9 280.7L456.0 278.4L456.2 276.5L456.4 275.7L456.5 278.3L456.7 279.4L456.8 277.8L457.0 273.3L457.2 272.8L457.3 277.1L457.5 274.1L457.6 272.3L457.8 272.4L458.0 271.1L458.1 270.1L458.3 270.1L458.4 270.8L458.6 269.6L458.8 274.1L458.9 270.7L459.1 267.7L459.2 269.0L459.4 270.0L459.6 271.7L459.7 270.5L459.9 267.6L460.0 272.8L460.2 270.5L460.4 270.9L460.5 272.4L460.7 272.2L460.8 270.5L461.0 274.2L461.2 269.0L461.3 272.7L461.5 269.3L461.6 269.5L461.8 267.4L462.0 269.8L462.1 266.6L462.3 271.2L462.4 264.1L462.6 263.4L462.8 259.0L462.9 263.5L463.1 262.9L463.2 262.2L463.4 262.2L463.6 259.9L463.7 262.3L463.9 261.3L464.0 259.0L464.2 262.4L464.4 258.8L464.5 257.6L464.7 256.7L464.8 260.3L465.0 255.3L465.2 259.1L465.3 256.5L465.5 254.8L465.6 257.5L465.8 252.3L466.0 255.6L466.1 257.6L466.3 259.0L466.4 253.5L466.6 254.6L466.8 260.2L466.9 261.4L467.1 260.5L467.2 254.9L467.4 258.5L467.6 253.1L467.7 257.5L467.9 250.0L468.0 254.1L468.2 249.5L468.4 251.0L468.5 248.4L468.7 244.6L468.8 249.0L469.0 250.2L469.2 249.6L469.3 247.6L469.5 250.4L469.6 253.3L469.8 251.6L470.0 249.9L470.1 246.1L470.3 245.3L470.4 247.3L470.6 245.2L470.8 246.4L470.9 244.1L471.1 244.4L471.2 242.7L471.4 242.6L471.6 244.5L471.7 244.8L471.9 242.4L472.0 241.2L472.2 242.7L472.4 237.5L472.5 239.4L472.7 241.2L472.8 241.4L473.0 237.3L473.2 239.4L473.3 235.9L473.5 234.6L473.6 238.5L473.8 233.9L474.0 231.7L474.1 234.5L474.3 234.5L474.4 234.6L474.6 230.8L474.8 234.5L474.9 232.9L475.1 235.9L475.2 229.3L475.4 233.5L475.6 229.7L475.7 229.2L475.9 230.9L476.0 230.3L476.2 228.4L476.4 221.9L476.5 225.1L476.7 223.8L476.8 226.2L477.0 222.5L477.2 221.4L477.3 221.5L477.5 220.7L477.6 225.6L477.8 223.9L478.0 223.4L478.1 222.7L478.3 219.5L478.4 220.6L478.6 221.9L478.8 218.8L478.9 215.9L479.1 219.6L479.2 217.6L479.4 218.0L479.6 216.3L479.7 215.2L479.9 215.8L480.0 213.3L480.2 215.7L480.4 215.7L480.5 215.6L480.7 218.4L480.8 214.3L481.0 216.6L481.2 216.0L481.3 212.0L481.5 215.6L481.6 215.5L481.8 210.3L482.0 212.0L482.1 210.2L482.3 211.0L482.4 208.9L482.6 210.0L482.8 213.5L482.9 205.8L483.1 211.7L483.2 209.3L483.4 202.3L483.6 208.7L483.7 206.4L483.9 208.1L484.0 202.6L484.2 201.5L484.4 203.1L484.5 203.9L484.7 199.5L484.8 197.5L485.0 198.1L485.2 199.6L485.3 201.4L485.5 200.9L485.6 202.0L485.8 205.2L486.0 204.9L486.1 201.9L486.3 198.1L486.4 199.6L486.6 195.7L486.8 200.5L486.9 200.3L487.1 198.4L487.2 198.0L487.4 196.6L487.6 197.2L487.7 195.4L487.9 200.1L488.0 196.0L488.2 191.5L488.4 196.6L488.5 194.1L488.7 194.6L488.8 197.8L489.0 195.0L489.2 197.3L489.3 195.5L489.5 198.1L489.6 196.0L489.8 193.6L490.0 188.8L490.1 192.8L490.3 194.2L490.4 190.2L490.6 190.9L490.8 193.9L490.9 189.6L491.1 187.5L491.2 187.8L491.4 190.4L491.6 190.2L491.7 187.4L491.9 194.6L492.0 190.6L492.2 190.5L492.4 192.8L492.5 193.5L492.7 190.9L492.8 187.5L493.0 187.0L493.2 188.7L493.3 184.9L493.5 185.0L493.6 182.8L493.8 181.9L494.0 181.9L494.1 184.2L494.3 179.8L494.4 181.0L494.6 183.8L494.8 180.3L494.9 177.6L495.1 181.2L495.2 183.0L495.4 185.0L495.6 187.3L495.7 182.4L495.9 185.2L496.0 182.0L496.2 182.6L496.4 186.0L496.5 181.7L496.7 179.9L496.8 184.2L497.0 184.8L497.2 182.0L497.3 181.2L497.5 178.0L497.6 178.9L497.8 174.0L498.0 177.0L498.1 174.8L498.3 172.7L498.4 180.4L498.6 182.7L498.8 177.3L498.9 173.1L499.1 177.9L499.2 176.4L499.4 175.7L499.6 173.3L499.7 178.5L499.9 177.2L500.0 175.5L500.2 169.5L500.4 172.7L500.5 175.4L500.7 176.6L500.8 173.1L501.0 174.0L501.2 172.0L501.3 177.2L501.5 173.4L501.6 172.0L501.8 168.1L502.0 168.2L502.1 170.4L502.3 172.9L502.4 170.8L502.6 171.5L502.8 172.6L502.9 169.2L503.1 173.5L503.2 175.7L503.4 174.2L503.6 171.6L503.7 166.7L503.9 166.7L504.0 163.4L504.2 166.6L504.4 162.4L504.5 164.3L504.7 163.7L504.8 162.8L505.0 161.5L505.2 168.7L505.3 166.5L505.5 167.4L505.6 168.1L505.8 164.2L506.0 161.5L506.1 164.0L506.3 166.0L506.4 168.9L506.6 161.3L506.8 163.9L506.9 162.4L507.1 163.6L507.2 163.9L507.4 157.8L507.6 164.0L507.7 162.3L507.9 157.0L508.0 159.8L508.2 160.3L508.4 162.2L508.5 158.0L508.7 160.9L508.8 164.0L509.0 156.9L509.2 162.6L509.3 159.9L509.5 158.1L509.6 161.1L509.8 155.7L510.0 156.9L510.1 157.3L510.3 161.5L510.4 160.5L510.6 164.9L510.8 160.6L510.9 162.8L511.1 161.8L511.2 161.1L511.4 164.2L511.6 164.4L511.7 161.1L511.9 158.5L512.0 155.3L512.2 160.4L512.4 154.7L512.5 159.6L512.7 160.0L512.8 154.7L513.0 160.5L513.2 156.5L513.3 157.8L513.5 158.0L513.6 158.7L513.8 155.0L514.0 159.0L514.1 161.6L514.3 155.2L514.4 154.8L514.6 158.8L514.8 156.2L514.9 152.0L515.1 149.0L515.2 156.3L515.4 153.8L515.6 157.8L515.7 157.2L515.9 161.5L516.0 150.5L516.2 153.2L516.4 153.5L516.5 159.0L516.7 157.1L516.8 156.7L517.0 152.5L517.2 157.3L517.3 152.8L517.5 151.8L517.6 152.7L517.8 151.0L518.0 150.7L518.1 154.7L518.3 151.0L518.4 152.1L518.6 155.0L518.8 151.4L518.9 151.3L519.1 151.0L519.2 153.2L519.4 152.7L519.6 151.7L519.7 153.8L519.9 153.4L520.0 152.9L520.2 156.9L520.4 152.2L520.5 153.3L520.7 151.0L520.8 154.9L521.0 155.0L521.2 152.9L521.3 150.1L521.5 155.4L521.6 155.7L521.8 149.5L522.0 151.1L522.1 153.5L522.3 154.7L522.4 153.0L522.6 151.8L522.8 148.8L522.9 147.9L523.1 152.7L523.2 147.7L523.4 146.8L523.6 148.9L523.7 150.1L523.9 151.9L524.0 150.5L524.2 153.2L524.4 150.4L524.5 147.2L524.7 152.3L524.8 151.0L525.0 148.4L525.2 149.5L525.3 150.7L525.5 148.6L525.6 146.9L525.8 149.0L526.0 145.5L526.1 145.4L526.3 147.5L526.4 144.9L526.6 147.9L526.8 147.1L526.9 149.1L527.1 146.1L527.2 146.5L527.4 147.5L527.6 146.1L527.7 142.7L527.9 147.4L528.0 143.5L528.2 145.1L528.4 142.8L528.5 145.0L528.7 142.2L528.8 148.1L529.0 144.4L529.2 141.0L529.3 145.2L529.5 148.3L529.6 144.8L529.8 144.2L530.0 146.5L530.1 141.4L530.3 148.0L530.4 145.9L530.6 144.3L530.8 147.0L530.9 149.0L531.1 146.9L531.2 143.5L531.4 149.6L531.6 145.1L531.7 141.1L531.9 144.1L532.0 142.4L532.2 143.0L532.4 140.0L532.5 141.1L532.7 142.2L532.8 142.1L533.0 148.3L533.2 147.8L533.3 146.5L533.5 150.1L533.6 145.4L533.8 142.4L534.0 141.3L534.1 145.2L534.3 147.6L534.4 139.1L534.6 142.6L534.8 137.3L534.9 142.8L535.1 144.7L535.2 141.7L535.4 138.1L535.6 139.4L535.7 142.7L535.9 142.0L536.0 142.9L536.2 140.4L536.4 143.9L536.5 140.3L536.7 137.0L536.8 136.9L537.0 138.4L537.2 143.2L537.3 138.6L537.5 143.6L537.6 145.2L537.8 143.3L538.0 139.4L538.1 136.1L538.3 137.7L538.4 135.0L538.6 137.8L538.8 139.2L538.9 144.5L539.1 143.1L539.2 137.0L539.4 143.1L539.6 137.9L539.7 142.3L539.9 141.1L540.0 134.9L540.2 135.1L540.4 142.5L540.5 136.4L540.7 139.7L540.8 134.3L541.0 138.0L541.2 137.4L541.3 142.1L541.5 142.3L541.6 141.3L541.8 140.6L542.0 142.3L542.1 141.5L542.3 135.6L542.4 139.8L542.6 139.9L542.8 139.0L542.9 139.0L543.1 139.9L543.2 136.8L543.4 141.1L543.6 140.9L543.7 141.5L543.9 133.8L544.0 137.5L544.2 140.9L544.4 139.5L544.5 139.4L544.7 138.8L544.8 134.2L545.0 136.8L545.2 136.7L545.3 136.2L545.5 138.2L545.6 142.6L545.8 143.4L546.0 143.3L546.1 134.6L546.3 137.7L546.4 133.1L546.6 137.8L546.8 135.4L546.9 140.9L547.1 133.5L547.2 134.0L547.4 136.9L547.6 140.5L547.7 133.7L547.9 133.8L548.0 134.4L548.2 140.1L548.4 138.3L548.5 139.3L548.7 137.7L548.8 136.8L549.0 138.1L549.2 137.1L549.3 139.5L549.5 137.6L549.6 139.5L549.8 138.3L550.0 140.9L550.1 131.6L550.3 136.1L550.4 136.1L550.6 130.2L550.8 133.1L550.9 136.6L551.1 134.3L551.2 136.8L551.4 135.7L551.6 137.9L551.7 130.1L551.9 138.2L552.0 133.9L552.2 131.9L552.4 137.3L552.5 134.6L552.7 135.8L552.8 130.1L553.0 137.4L553.2 135.0L553.3 132.6L553.5 131.4L553.6 132.9L553.8 138.6L554.0 139.0L554.1 136.7L554.3 137.9L554.4 138.0L554.6 142.0L554.8 140.6L554.9 138.1L555.1 130.8L555.2 130.1L555.4 137.9L555.6 138.8L555.7 131.1L555.9 131.2L556.0 134.6L556.2 137.0L556.4 136.7L556.5 135.3L556.7 136.1L556.8 135.5L557.0 134.7L557.2 136.0L557.3 134.3L557.5 136.0L557.6 132.4L557.8 134.5L558.0 138.9L558.1 138.9L558.3 135.6L558.4 132.1L558.6 132.1L558.8 136.0L558.9 129.1L559.1 137.2L559.2 129.5L559.4 134.6L559.6 136.0L559.7 137.3L559.9 134.5L560.0 134.1L560.2 133.8L560.4 130.6L560.5 132.0L560.7 133.8L560.8 135.0L561.0 130.6L561.2 128.1L561.3 134.4L561.5 133.2L561.6 135.7L561.8 132.0L562.0 135.7L562.1 137.4L562.3 130.6L562.4 131.1L562.6 132.8L562.8 131.7L562.9 133.1L563.1 134.0L563.2 135.8L563.4 130.1L563.6 135.2L563.7 135.4L563.9 136.3L564.0 136.1L564.2 135.9L564.4 135.0L564.5 132.5L564.7 127.3L564.8 131.6L565.0 130.4L565.2 130.1L565.3 136.4L565.5 130.9L565.6 138.7L565.8 130.7L566.0 133.0L566.1 135.3L566.3 137.6L566.4 132.5L566.6 130.2L566.8 137.3L566.9 130.9L567.1 135.3L567.2 128.8L567.4 129.6L567.6 132.0L567.7 131.8L567.9 135.8L568.0 131.6L568.2 134.1L568.4 132.1L568.5 131.8L568.7 135.1L568.8 130.4L569.0 129.7L569.2 133.0L569.3 130.8L569.5 134.0L569.6 132.3L569.8 130.0L570.0 132.3L570.1 130.0L570.3 129.7L570.4 133.4L570.6 127.7L570.8 130.0L570.9 128.0L571.1 131.5L571.2 131.7L571.4 130.8L571.6 126.9L571.7 130.0L571.9 128.4L572.0 132.4L572.2 129.1L572.4 127.9L572.5 132.0L572.7 128.9L572.8 129.5L573.0 135.7L573.2 130.2L573.3 134.5L573.5 128.1L573.6 131.9L573.8 133.0L574.0 129.3L574.1 132.0L574.3 135.9L574.4 129.7L574.6 134.4L574.8 127.8L574.9 133.4L575.1 130.5L575.2 134.7L575.4 129.1L575.6 131.1L575.7 131.1L575.9 132.0L576.0 135.3L576.2 133.9L576.4 128.7L576.5 131.2L576.7 127.2L576.8 127.7L577.0 133.0L577.2 128.5L577.3 133.2L577.5 128.1L577.6 128.1L577.8 133.9L578.0 131.1L578.1 126.4L578.3 130.1L578.4 131.3L578.6 134.0L578.8 130.2L578.9 126.6L579.1 127.4L579.2 128.3L579.4 130.2L579.6 134.4L579.7 129.0L579.9 136.2L580.0 130.5L580.2 135.2L580.4 131.1L580.5 129.3L580.7 129.2L580.8 128.5L581.0 127.9L581.2 126.7L581.3 127.3L581.5 131.1L581.6 135.2L581.8 136.1L582.0 132.8L582.1 135.1L582.3 126.9L582.4 133.5L582.6 132.6L582.8 134.5L582.9 125.0L583.1 130.1L583.2 132.7L583.4 125.0L583.6 135.6L583.7 133.3L583.9 128.0L584.0 124.7L584.2 128.3L584.4 131.5L584.5 131.7L584.7 127.9L584.8 128.9L585.0 133.2L585.2 127.9L585.3 130.1L585.5 133.2L585.6 131.5L585.8 132.7L586.0 125.2L586.1 133.9L586.3 131.6L586.4 127.3L586.6 133.5L586.8 133.5L586.9 132.1L587.1 127.6L587.2 127.2L587.4 131.9L587.6 135.3L587.7 128.0L587.9 132.9L588.0 129.5L588.2 135.3L588.4 130.7L588.5 131.2L588.7 132.9L588.8 136.4L589.0 130.0L589.2 126.6L589.3 128.6L589.5 128.3L589.6 124.5L589.8 127.0L590.0 127.5L590.1 128.0L590.3 132.3L590.4 129.2L590.6 134.3L590.8 127.8L590.9 130.2L591.1 130.6L591.2 126.6L591.4 126.1L591.6 128.5L591.7 133.6L591.9 132.2L592.0 129.9L592.2 127.8L592.4 125.6L592.5 137.0L592.7 129.4L592.8 132.8L593.0 129.2L593.2 130.4L593.3 130.3L593.5 133.8L593.6 134.6L593.8 128.2L594.0 127.1L594.1 132.1L594.3 126.3L594.4 127.0L594.6 124.5L594.8 126.4L594.9 132.2L595.1 132.7L595.2 129.0L595.4 125.7L595.6 129.7L595.7 132.6L595.9 127.7L596.0 129.9L596.2 129.1L596.4 133.1L596.5 124.0L596.7 127.3L596.8 130.2L597.0 130.7L597.2 135.0L597.3 132.7L597.5 136.2L597.6 129.2L597.8 129.3L598.0 126.2L598.1 126.6L598.3 133.7L598.4 127.7L598.6 134.6L598.8 130.8L598.9 127.0L599.1 131.4L599.2 125.2L599.4 124.4L599.6 124.6L599.7 130.4L599.9 127.7L600.0 126.7L600.2 129.9L600.4 134.6L600.5 127.8L600.7 129.6L600.8 129.6L601.0 129.2L601.2 127.6L601.3 134.1L601.5 130.4L601.6 132.6L601.8 129.7L602.0 128.9L602.1 130.2L602.3 128.2L602.4 136.2L602.6 132.8L602.8 132.0L602.9 127.9L603.1 130.2L603.2 132.7L603.4 131.7L603.6 127.5L603.7 132.5L603.9 128.4L604.0 134.3L604.2 128.9L604.4 129.5L604.5 133.4L604.7 131.9L604.8 133.6L605.0 132.9L605.2 133.0L605.3 125.6L605.5 129.5L605.6 132.2L605.8 126.0L606.0 128.7L606.1 126.8L606.3 124.8L606.4 126.8L606.6 132.5L606.8 128.8L606.9 125.3L607.1 130.8L607.2 126.9L607.4 128.9L607.6 130.6L607.7 135.2L607.9 127.6L608.0 127.0L608.2 131.2L608.4 131.7L608.5 132.9L608.7 130.9L608.8 132.1L609.0 129.3L609.2 128.1L609.3 128.1L609.5 125.2L609.6 126.1L609.8 132.9L610.0 128.9L610.1 128.8L610.3 129.8L610.4 127.0L610.6 129.7L610.8 132.8L610.9 134.3L611.1 127.6L611.2 134.6L611.4 134.4L611.6 125.2L611.7 125.9L611.9 126.5L612.0 132.0L612.2 132.6L612.4 133.7L612.5 127.0L612.7 133.8L612.8 130.5L613.0 133.6L613.2 128.9L613.3 128.8L613.5 133.3L613.6 126.6L613.8 128.4L614.0 130.7L614.1 133.1L614.3 132.8L614.4 126.9L614.6 136.2L614.8 132.2L614.9 127.4L615.1 135.0L615.2 126.3L615.4 129.8L615.6 128.4L615.7 134.1L615.9 129.0L616.0 127.3L616.2 134.0L616.4 126.3L616.5 126.1L616.7 131.5L616.8 126.6L617.0 128.8L617.2 125.7L617.3 130.6L617.5 128.0L617.6 136.0L617.8 129.8L618.0 126.7L618.1 127.1L618.3 128.6L618.4 134.2L618.6 125.2L618.8 125.3L618.9 132.1L619.1 129.7L619.2 131.7L619.4 132.8L619.6 126.9L619.7 131.0L619.9 134.0L620.0 127.1L620.2 131.2L620.4 132.4L620.5 132.8L620.7 131.0L620.8 125.7L621.0 129.4L621.2 130.4L621.3 126.1L621.5 125.4L621.6 126.9L621.8 130.5L622.0 124.0L622.1 133.6L622.3 128.2L622.4 129.6L622.6 124.6L622.8 133.0L622.9 125.8L623.1 133.7L623.2 127.0L623.4 127.7L623.6 126.9L623.7 127.9L623.9 127.3L624.0 132.9L624.2 127.1L624.4 133.6L624.5 133.1L624.7 129.4L624.8 130.0L625.0 130.4L625.2 133.1L625.3 136.2L625.5 129.8L625.6 128.0L625.8 132.2L626.0 133.4L626.1 131.5L626.3 127.8L626.4 129.4L626.6 133.1L626.8 127.1L626.9 128.5L627.1 130.7L627.2 127.3L627.4 128.6L627.6 133.9L627.7 131.0L627.9 125.3L628.0 124.7L628.2 131.0L628.4 130.2L628.5 125.3L628.7 130.0L628.8 125.8L629.0 135.4L629.2 126.8L629.3 130.4L629.5 127.9L629.6 132.5L629.8 131.2L630.0 129.2L630.1 125.6L630.3 130.7L630.4 126.2L630.6 125.0L630.8 131.5L630.9 130.9L631.1 125.7L631.2 127.9L631.4 133.0L631.6 130.9L631.7 127.1L631.9 128.7L632.0 132.0L632.2 131.3L632.4 133.0L632.5 133.5L632.7 129.1L632.8 135.8L633.0 133.1L633.2 130.3L633.3 130.7L633.5 126.2L633.6 129.3L633.8 132.4L634.0 130.2L634.1 127.9L634.3 133.5L634.4 128.0L634.6 129.7L634.8 132.4L634.9 132.2L635.1 131.7L635.2 127.1L635.4 126.0L635.6 123.9L635.7 128.6L635.9 129.9L636.0 132.8L636.2 124.3L636.4 130.1L636.5 127.2L636.7 129.3L636.8 129.1L637.0 125.4L637.2 133.9L637.3 126.3L637.5 132.4L637.6 133.1L637.8 131.3L638.0 127.9L638.1 129.5L638.3 132.3L638.4 127.3L638.6 128.0L638.8 123.6L638.9 132.3L639.1 132.8L639.2 132.5L639.4 127.3L639.6 131.5L639.7 125.6L639.9 126.6L640.0 126.4L640.2 127.5L640.4 131.5L640.5 127.1L640.7 133.0L640.8 130.2L641.0 126.8L641.2 126.7L641.3 124.9L641.5 128.4L641.6 127.7L641.8 132.9L642.0 127.2L642.1 131.5L642.3 129.4L642.4 133.2L642.6 127.7L642.8 127.8L642.9 131.2L643.1 129.3L643.2 127.3L643.4 129.5L643.6 133.6L643.7 129.6L643.9 130.4L644.0 126.8L644.2 130.2L644.4 130.3L644.5 125.6L644.7 135.1L644.8 128.9L645.0 134.1L645.2 128.0L645.3 132.5L645.5 126.2L645.6 130.8L645.8 130.2L646.0 127.4L646.1 134.5L646.3 127.5L646.4 136.6L646.6 129.6L646.8 130.6L646.9 132.3L647.1 124.5L647.2 133.2L647.4 129.3L647.6 132.0L647.7 127.2L647.9 133.2L648.0 135.4L648.2 127.7L648.4 127.4L648.5 126.9L648.7 133.6L648.8 126.8L649.0 131.9L649.2 133.1L649.3 126.4L649.5 123.7L649.6 129.1L649.8 126.7L650.0 131.2L650.1 131.7L650.3 133.4L650.4 127.5L650.6 129.0L650.8 133.6L650.9 131.4L651.1 134.2L651.2 125.6L651.4 128.4L651.6 131.6L651.7 126.8L651.9 133.7L652.0 125.7L652.2 130.7L652.4 127.0L652.5 133.2L652.7 134.0L652.8 130.3L653.0 130.9L653.2 128.0L653.3 132.6L653.5 128.7L653.6 127.2L653.8 133.3L654.0 126.8L654.1 134.0L654.3 129.8L654.4 125.0L654.6 123.0L654.8 124.1L654.9 132.7L655.1 125.2L655.2 128.7L655.4 131.0L655.6 125.9L655.7 132.2L655.9 124.9L656.0 127.9L656.2 131.2L656.4 125.8L656.5 128.5L656.7 130.4L656.8 133.8L657.0 127.8L657.2 133.8L657.3 133.5L657.5 131.5L657.6 131.7L657.8 124.4L658.0 132.1L658.1 124.6L658.3 133.6L658.4 129.1L658.6 130.7L658.8 131.0L658.9 134.6L659.1 129.0L659.2 135.0L659.4 129.6L659.6 127.0L659.7 124.7L659.9 129.7L660.0 132.7L660.2 128.9L660.4 133.3L660.5 131.0L660.7 132.2L660.8 134.4L661.0 129.8L661.2 129.1L661.3 127.6L661.5 127.8L661.6 134.9L661.8 129.0L662.0 134.1L662.1 131.2L662.3 123.7L662.4 131.9L662.6 132.0L662.8 131.1L662.9 129.9L663.1 127.6L663.2 126.6L663.4 133.2L663.6 133.1L663.7 130.7L663.9 134.9L664.0 133.5L664.2 131.0L664.4 128.4L664.5 130.7L664.7 127.6L664.8 130.7L665.0 130.0L665.2 128.0L665.3 133.2L665.5 131.0L665.6 123.9L665.8 128.4L666.0 127.0L666.1 133.6L666.3 125.8L666.4 132.8L666.6 131.4L666.8 132.7L666.9 125.5L667.1 124.6L667.2 133.1L667.4 128.5L667.6 127.6L667.7 129.0L667.9 133.8L668.0 125.1L668.2 128.5L668.4 125.7L668.5 128.9L668.7 128.6L668.8 130.9L669.0 133.5L669.2 129.8L669.3 134.7L669.5 130.0L669.6 130.3L669.8 136.3L670.0 129.6L670.1 135.4L670.3 126.3L670.4 127.5L670.6 131.7L670.8 131.9L670.9 132.7L671.1 130.8L671.2 128.7L671.4 127.3L671.6 129.8L671.7 127.6L671.9 134.2L672.0 128.6L672.2 126.2L672.4 124.0L672.5 131.5" fill="none" stroke="#000" stroke-width="1.3" stroke-linejoin="round"/>
</svg>
</body>
</html>
